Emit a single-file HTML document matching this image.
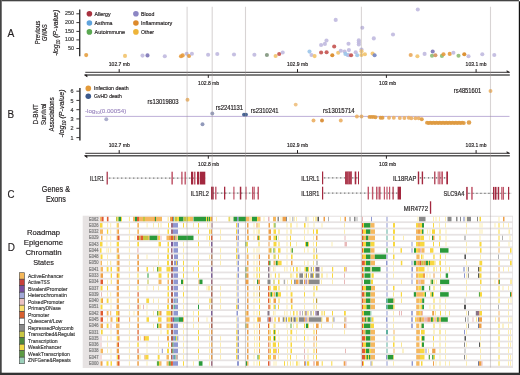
<!DOCTYPE html>
<html><head><meta charset="utf-8"><style>
html,body{margin:0;padding:0;background:#fff;}
body{width:520px;height:375px;overflow:hidden;}
svg{display:block;font-family:"Liberation Sans", sans-serif;will-change:transform;}
</style></head><body>
<svg width="520" height="375" viewBox="0 0 520 375">
<rect x="0" y="0" width="520" height="375" fill="#ffffff" />
<text x="7.6" y="36.7" font-size="11.6" fill="#231f20" stroke="#231f20" stroke-width="0.18" text-anchor="start" textLength="6.8" lengthAdjust="spacingAndGlyphs" >A</text>
<text transform="translate(40.0,44.2) rotate(-90)" x="0" y="0" font-size="6.6" fill="#231f20" stroke="#231f20" stroke-width="0.18" textLength="23.6" lengthAdjust="spacingAndGlyphs" >Previous</text>
<text transform="translate(47.1,41.1) rotate(-90)" x="0" y="0" font-size="6.4" fill="#231f20" stroke="#231f20" stroke-width="0.18" textLength="16.7" lengthAdjust="spacingAndGlyphs" >GWAS</text>
<text transform="translate(58.2,55.8) rotate(-90)" x="0" y="0" font-size="7.6" font-style="italic" fill="#231f20" stroke="#231f20" stroke-width="0.18" textLength="46" lengthAdjust="spacingAndGlyphs">-log<tspan font-size="4.5" dy="1.5">10</tspan><tspan dy="-1.5"> (P-value)</tspan></text>
<line x1="79.7" y1="9.4" x2="79.7" y2="56.2" stroke="#333" stroke-width="1.4" />
<line x1="76.4" y1="13.8" x2="79.5" y2="13.8" stroke="#231f20" stroke-width="0.9" />
<text x="74.0" y="15.3" font-size="5.4" fill="#3a3a3a" stroke="#3a3a3a" stroke-width="0.18" text-anchor="end" >250</text>
<line x1="76.4" y1="22.6" x2="79.5" y2="22.6" stroke="#231f20" stroke-width="0.9" />
<text x="74.0" y="24.1" font-size="5.4" fill="#3a3a3a" stroke="#3a3a3a" stroke-width="0.18" text-anchor="end" >200</text>
<line x1="76.4" y1="31.4" x2="79.5" y2="31.4" stroke="#231f20" stroke-width="0.9" />
<text x="74.0" y="32.9" font-size="5.4" fill="#3a3a3a" stroke="#3a3a3a" stroke-width="0.18" text-anchor="end" >150</text>
<line x1="76.4" y1="39.9" x2="79.5" y2="39.9" stroke="#231f20" stroke-width="0.9" />
<text x="74.0" y="41.4" font-size="5.4" fill="#3a3a3a" stroke="#3a3a3a" stroke-width="0.18" text-anchor="end" >100</text>
<line x1="76.4" y1="48.5" x2="79.5" y2="48.5" stroke="#231f20" stroke-width="0.9" />
<text x="74.0" y="50.0" font-size="5.4" fill="#3a3a3a" stroke="#3a3a3a" stroke-width="0.18" text-anchor="end" >50</text>
<circle cx="89.4" cy="13.8" r="2.8" fill="#a8323f" />
<text x="94.60000000000001" y="15.8" font-size="5.8" fill="#231f20" stroke="#231f20" stroke-width="0.18" text-anchor="start" textLength="15.9" lengthAdjust="spacingAndGlyphs" >Allergy</text>
<circle cx="89.4" cy="23.0" r="2.8" fill="#5fa3dc" />
<text x="94.60000000000001" y="25.0" font-size="5.8" fill="#231f20" stroke="#231f20" stroke-width="0.18" text-anchor="start" textLength="17.9" lengthAdjust="spacingAndGlyphs" >Asthma</text>
<circle cx="89.4" cy="31.9" r="2.8" fill="#5aa851" />
<text x="94.60000000000001" y="33.9" font-size="5.8" fill="#231f20" stroke="#231f20" stroke-width="0.18" text-anchor="start" textLength="30.4" lengthAdjust="spacingAndGlyphs" >Autoimmune</text>
<circle cx="135.9" cy="13.8" r="2.8" fill="#8c86c4" />
<text x="141.1" y="15.8" font-size="5.8" fill="#231f20" stroke="#231f20" stroke-width="0.18" text-anchor="start" textLength="13.3" lengthAdjust="spacingAndGlyphs" >Blood</text>
<circle cx="135.9" cy="23.0" r="2.8" fill="#dd8a2c" />
<text x="141.1" y="25.0" font-size="5.8" fill="#231f20" stroke="#231f20" stroke-width="0.18" text-anchor="start" textLength="31.2" lengthAdjust="spacingAndGlyphs" >Inflammatory</text>
<circle cx="135.9" cy="31.9" r="2.8" fill="#eeb43a" />
<text x="141.1" y="33.9" font-size="5.8" fill="#231f20" stroke="#231f20" stroke-width="0.18" text-anchor="start" textLength="12.9" lengthAdjust="spacingAndGlyphs" >Other</text>
<circle cx="86.2" cy="55.1" r="2.05" fill="#e5a040" fill-opacity="0.9"/>
<circle cx="125.0" cy="55.9" r="2.05" fill="#f2c36c" fill-opacity="0.9"/>
<circle cx="142.5" cy="55.6" r="2.05" fill="#c0b9df" fill-opacity="0.9"/>
<circle cx="147.5" cy="55.4" r="2.05" fill="#7c74b6" fill-opacity="0.9"/>
<circle cx="164.8" cy="56.2" r="2.05" fill="#c0b9df" fill-opacity="0.9"/>
<circle cx="181.0" cy="56.2" r="2.05" fill="#e59a3c" fill-opacity="0.9"/>
<circle cx="182.7" cy="55.4" r="2.05" fill="#e59a3c" fill-opacity="0.9"/>
<circle cx="186.7" cy="53.7" r="2.05" fill="#c0b9df" fill-opacity="0.9"/>
<circle cx="189.0" cy="56.0" r="2.05" fill="#e59a3c" fill-opacity="0.9"/>
<circle cx="191.9" cy="53.7" r="2.05" fill="#c0b9df" fill-opacity="0.9"/>
<circle cx="208.1" cy="54.8" r="2.05" fill="#c0b9df" fill-opacity="0.9"/>
<circle cx="217.3" cy="54.0" r="2.05" fill="#c0b9df" fill-opacity="0.9"/>
<circle cx="234.0" cy="54.5" r="2.05" fill="#c0b9df" fill-opacity="0.9"/>
<circle cx="254.4" cy="54.8" r="2.05" fill="#c0b9df" fill-opacity="0.9"/>
<circle cx="266.9" cy="55.0" r="2.05" fill="#7f957c" fill-opacity="0.9"/>
<circle cx="275.6" cy="56.0" r="2.05" fill="#f2c36c" fill-opacity="0.9"/>
<circle cx="279.2" cy="54.0" r="2.05" fill="#c4524f" fill-opacity="0.9"/>
<circle cx="282.7" cy="52.5" r="2.05" fill="#c0b9df" fill-opacity="0.9"/>
<circle cx="309.5" cy="51.6" r="2.05" fill="#9bc5ea" fill-opacity="0.9"/>
<circle cx="311.5" cy="55.0" r="2.05" fill="#c0b9df" fill-opacity="0.9"/>
<circle cx="314.6" cy="56.1" r="2.05" fill="#f2c36c" fill-opacity="0.9"/>
<circle cx="321.1" cy="52.5" r="2.05" fill="#c4524f" fill-opacity="0.9"/>
<circle cx="326.6" cy="52.2" r="2.05" fill="#c4524f" fill-opacity="0.9"/>
<circle cx="332.3" cy="55.3" r="2.05" fill="#d8861f" fill-opacity="0.9"/>
<circle cx="338.2" cy="52.8" r="2.05" fill="#f2c36c" fill-opacity="0.9"/>
<circle cx="340.8" cy="50.7" r="2.05" fill="#c0b9df" fill-opacity="0.9"/>
<circle cx="344.6" cy="51.6" r="2.05" fill="#c0b9df" fill-opacity="0.9"/>
<circle cx="345.4" cy="53.9" r="2.05" fill="#9bc5ea" fill-opacity="0.9"/>
<circle cx="347.7" cy="55.0" r="2.05" fill="#9bc5ea" fill-opacity="0.9"/>
<circle cx="348.9" cy="55.3" r="2.05" fill="#c0b9df" fill-opacity="0.9"/>
<circle cx="351.1" cy="55.3" r="2.05" fill="#c4524f" fill-opacity="0.9"/>
<circle cx="348.9" cy="50.1" r="2.05" fill="#c0b9df" fill-opacity="0.9"/>
<circle cx="348.5" cy="43.8" r="2.05" fill="#c0b9df" fill-opacity="0.9"/>
<circle cx="355.7" cy="52.2" r="2.05" fill="#c0b9df" fill-opacity="0.9"/>
<circle cx="357.2" cy="55.3" r="2.05" fill="#9bc5ea" fill-opacity="0.9"/>
<circle cx="358.8" cy="40.4" r="2.05" fill="#c0b9df" fill-opacity="0.9"/>
<circle cx="358.8" cy="42.4" r="2.05" fill="#c0b9df" fill-opacity="0.9"/>
<circle cx="358.8" cy="44.5" r="2.05" fill="#c0b9df" fill-opacity="0.9"/>
<circle cx="361.5" cy="49.6" r="2.05" fill="#c0b9df" fill-opacity="0.9"/>
<circle cx="361.5" cy="51.2" r="2.05" fill="#f2c36c" fill-opacity="0.9"/>
<circle cx="361.5" cy="55.0" r="2.05" fill="#f2c36c" fill-opacity="0.9"/>
<circle cx="364.9" cy="54.2" r="2.05" fill="#f2c36c" fill-opacity="0.9"/>
<circle cx="362.3" cy="27.8" r="2.05" fill="#c0b9df" fill-opacity="0.9"/>
<circle cx="372.6" cy="53.5" r="2.05" fill="#f2c36c" fill-opacity="0.9"/>
<circle cx="374.6" cy="55.3" r="2.05" fill="#7384c2" fill-opacity="0.9"/>
<circle cx="373.8" cy="38.4" r="2.05" fill="#c0b9df" fill-opacity="0.9"/>
<circle cx="335.7" cy="19.9" r="2.05" fill="#c0b9df" fill-opacity="0.9"/>
<circle cx="321.1" cy="45.0" r="2.05" fill="#c0b9df" fill-opacity="0.9"/>
<circle cx="324.9" cy="43.9" r="2.05" fill="#c0b9df" fill-opacity="0.9"/>
<circle cx="326.5" cy="40.5" r="2.05" fill="#c0b9df" fill-opacity="0.9"/>
<circle cx="334.2" cy="46.5" r="2.05" fill="#c4524f" fill-opacity="0.9"/>
<circle cx="393.0" cy="34.5" r="2.05" fill="#c0b9df" fill-opacity="0.9"/>
<circle cx="417.8" cy="9.5" r="2.05" fill="#c0b9df" fill-opacity="0.9"/>
<circle cx="410.7" cy="55.0" r="2.05" fill="#e9a85c" fill-opacity="0.9"/>
<circle cx="417.4" cy="56.2" r="2.05" fill="#f2c36c" fill-opacity="0.9"/>
<circle cx="424.6" cy="53.9" r="2.05" fill="#c0b9df" fill-opacity="0.9"/>
<circle cx="432.7" cy="51.5" r="2.05" fill="#7c74b6" fill-opacity="0.9"/>
<circle cx="432.0" cy="55.7" r="2.05" fill="#8ebc74" fill-opacity="0.9"/>
<circle cx="435.4" cy="55.2" r="2.05" fill="#d4925c" fill-opacity="0.9"/>
<circle cx="441.9" cy="55.9" r="2.05" fill="#8ebc74" fill-opacity="0.9"/>
<circle cx="443.5" cy="54.3" r="2.05" fill="#e59a3c" fill-opacity="0.9"/>
<circle cx="449.7" cy="53.9" r="2.05" fill="#e59a3c" fill-opacity="0.9"/>
<circle cx="453.4" cy="52.7" r="2.05" fill="#c0b9df" fill-opacity="0.9"/>
<circle cx="458.5" cy="55.7" r="2.05" fill="#8ebc74" fill-opacity="0.9"/>
<circle cx="464.3" cy="54.3" r="2.05" fill="#d8861f" fill-opacity="0.9"/>
<circle cx="468.5" cy="56.2" r="2.05" fill="#c0b9df" fill-opacity="0.9"/>
<circle cx="482.3" cy="54.3" r="2.05" fill="#c0b9df" fill-opacity="0.9"/>
<circle cx="494.3" cy="55.0" r="2.05" fill="#c0b9df" fill-opacity="0.9"/>
<line x1="85.3" y1="72.3" x2="509.5" y2="72.3" stroke="#231f20" stroke-width="0.9" />
<path d="M509.5 72.3 L506.8 70.7 L507.2 72.1 Z" fill="#231f20" stroke="#231f20" stroke-width="0.6"/>
<line x1="85.0" y1="74.9" x2="509.8" y2="74.9" stroke="#555" stroke-width="1.5" />
<path d="M84.4 74.9 L87.2 76.9 L86.8 74.9 Z" fill="#231f20" stroke="#231f20" stroke-width="0.6"/>
<line x1="119.2" y1="69.1" x2="119.2" y2="72.3" stroke="#231f20" stroke-width="1.0" />
<line x1="297.5" y1="69.1" x2="297.5" y2="72.3" stroke="#231f20" stroke-width="1.0" />
<line x1="476.1" y1="69.1" x2="476.1" y2="72.3" stroke="#231f20" stroke-width="1.0" />
<line x1="208.3" y1="74.9" x2="208.3" y2="77.9" stroke="#231f20" stroke-width="1.0" />
<line x1="386.4" y1="74.9" x2="386.4" y2="77.9" stroke="#231f20" stroke-width="1.0" />
<text x="108.8" y="65.5" font-size="5.4" fill="#231f20" stroke="#231f20" stroke-width="0.18" text-anchor="start" textLength="21.0" lengthAdjust="spacingAndGlyphs" >102.7 mb</text>
<text x="287.0" y="65.5" font-size="5.4" fill="#231f20" stroke="#231f20" stroke-width="0.18" text-anchor="start" textLength="21.0" lengthAdjust="spacingAndGlyphs" >102.9 mb</text>
<text x="465.6" y="65.5" font-size="5.4" fill="#231f20" stroke="#231f20" stroke-width="0.18" text-anchor="start" textLength="21.0" lengthAdjust="spacingAndGlyphs" >103.1 mb</text>
<text x="198.1" y="85.2" font-size="5.4" fill="#231f20" stroke="#231f20" stroke-width="0.18" text-anchor="start" textLength="21.0" lengthAdjust="spacingAndGlyphs" >102.8 mb</text>
<text x="379.1" y="85.2" font-size="5.4" fill="#231f20" stroke="#231f20" stroke-width="0.18" text-anchor="start" textLength="16.9" lengthAdjust="spacingAndGlyphs" >103 mb</text>
<text x="7.6" y="117.8" font-size="11.6" fill="#231f20" stroke="#231f20" stroke-width="0.18" text-anchor="start" textLength="6.6" lengthAdjust="spacingAndGlyphs" >B</text>
<text transform="translate(38.0,124.4) rotate(-90)" x="0" y="0" font-size="6.9" fill="#231f20" stroke="#231f20" stroke-width="0.18" textLength="20.3" lengthAdjust="spacingAndGlyphs" >D-BMT</text>
<text transform="translate(46.0,125.0) rotate(-90)" x="0" y="0" font-size="6.5" fill="#231f20" stroke="#231f20" stroke-width="0.18" textLength="21.4" lengthAdjust="spacingAndGlyphs" >Survival</text>
<text transform="translate(54.0,131.4) rotate(-90)" x="0" y="0" font-size="6.4" fill="#231f20" stroke="#231f20" stroke-width="0.18" textLength="34.2" lengthAdjust="spacingAndGlyphs" >Associations</text>
<text transform="translate(64.4,137.4) rotate(-90)" x="0" y="0" font-size="8.0" font-style="italic" fill="#231f20" stroke="#231f20" stroke-width="0.18" textLength="48" lengthAdjust="spacingAndGlyphs">-log<tspan font-size="4.8" dy="1.5">10</tspan><tspan dy="-1.5"> (P-value)</tspan></text>
<line x1="79.9" y1="88.1" x2="79.9" y2="140.6" stroke="#333" stroke-width="1.5" />
<line x1="76.4" y1="91.2" x2="79.6" y2="91.2" stroke="#231f20" stroke-width="0.9" />
<text x="73.6" y="93.3" font-size="5.4" fill="#3a3a3a" stroke="#3a3a3a" stroke-width="0.18" text-anchor="end" >6</text>
<line x1="76.4" y1="100.4" x2="79.6" y2="100.4" stroke="#231f20" stroke-width="0.9" />
<text x="73.6" y="102.5" font-size="5.4" fill="#3a3a3a" stroke="#3a3a3a" stroke-width="0.18" text-anchor="end" >5</text>
<line x1="76.4" y1="109.7" x2="79.6" y2="109.7" stroke="#231f20" stroke-width="0.9" />
<text x="73.6" y="111.8" font-size="5.4" fill="#3a3a3a" stroke="#3a3a3a" stroke-width="0.18" text-anchor="end" >4</text>
<line x1="76.4" y1="118.9" x2="79.6" y2="118.9" stroke="#231f20" stroke-width="0.9" />
<text x="73.6" y="121.0" font-size="5.4" fill="#3a3a3a" stroke="#3a3a3a" stroke-width="0.18" text-anchor="end" >3</text>
<line x1="76.4" y1="128.3" x2="79.6" y2="128.3" stroke="#231f20" stroke-width="0.9" />
<text x="73.6" y="130.4" font-size="5.4" fill="#3a3a3a" stroke="#3a3a3a" stroke-width="0.18" text-anchor="end" >2</text>
<line x1="76.4" y1="137.6" x2="79.6" y2="137.6" stroke="#231f20" stroke-width="0.9" />
<text x="73.6" y="139.7" font-size="5.4" fill="#3a3a3a" stroke="#3a3a3a" stroke-width="0.18" text-anchor="end" >1</text>
<circle cx="88.3" cy="88.4" r="2.8" fill="#e39a3a" />
<text x="94.1" y="90.4" font-size="5.8" fill="#231f20" stroke="#231f20" stroke-width="0.18" text-anchor="start" textLength="34.6" lengthAdjust="spacingAndGlyphs" >Infection death</text>
<circle cx="88.3" cy="96.2" r="2.8" fill="#3d5a8c" />
<text x="94.1" y="98.2" font-size="5.8" fill="#231f20" stroke="#231f20" stroke-width="0.18" text-anchor="start" textLength="27.6" lengthAdjust="spacingAndGlyphs" >GvHD death</text>
<line x1="85.2" y1="116.4" x2="509.5" y2="116.4" stroke="#b7a6d2" stroke-width="0.9" />
<text x="85.0" y="112.8" font-size="5.8" fill="#9a86bf" stroke="#9a86bf" stroke-width="0.12" textLength="41.3" lengthAdjust="spacingAndGlyphs">-log<tspan font-size="3.6" dy="1">10</tspan><tspan dy="-1">(0.00054)</tspan></text>
<circle cx="106.3" cy="119.3" r="1.95" fill="#a4a6c8" fill-opacity="0.92"/>
<circle cx="187.5" cy="99.8" r="1.95" fill="#efb466" fill-opacity="0.92"/>
<circle cx="212.3" cy="113.5" r="1.95" fill="#8e96b6" fill-opacity="0.92"/>
<circle cx="202.5" cy="124.3" r="1.95" fill="#8890b4" fill-opacity="0.92"/>
<circle cx="244.0" cy="114.6" r="1.95" fill="#3d5a8c" fill-opacity="0.92"/>
<circle cx="246.0" cy="114.6" r="1.95" fill="#3d5a8c" fill-opacity="0.92"/>
<circle cx="295.7" cy="104.6" r="1.95" fill="#efc080" fill-opacity="0.92"/>
<circle cx="313.5" cy="120.5" r="1.95" fill="#ebb065" fill-opacity="0.92"/>
<circle cx="322.0" cy="120.5" r="1.95" fill="#d88a30" fill-opacity="0.92"/>
<circle cx="340.8" cy="120.5" r="1.95" fill="#ebb065" fill-opacity="0.92"/>
<circle cx="356.9" cy="116.5" r="1.95" fill="#ebb065" fill-opacity="0.92"/>
<circle cx="361.5" cy="116.5" r="1.95" fill="#ebb065" fill-opacity="0.92"/>
<circle cx="490.5" cy="91.0" r="1.95" fill="#efb466" fill-opacity="0.92"/>
<circle cx="369.5" cy="116.9" r="1.95" fill="#de9a40" fill-opacity="0.92"/>
<circle cx="371.5" cy="116.9" r="1.95" fill="#de9a40" fill-opacity="0.92"/>
<circle cx="373.5" cy="116.9" r="1.95" fill="#de9a40" fill-opacity="0.92"/>
<circle cx="375.5" cy="117.2" r="1.95" fill="#de9a40" fill-opacity="0.92"/>
<circle cx="380.6" cy="117.8" r="1.95" fill="#de9a40" fill-opacity="0.92"/>
<circle cx="382.5" cy="117.8" r="1.95" fill="#de9a40" fill-opacity="0.92"/>
<circle cx="389" cy="117.8" r="1.95" fill="#ebb065" fill-opacity="0.92"/>
<circle cx="393.8" cy="117.8" r="1.95" fill="#ebb065" fill-opacity="0.92"/>
<circle cx="399.8" cy="118" r="1.95" fill="#ebb065" fill-opacity="0.92"/>
<circle cx="404.4" cy="118" r="1.95" fill="#ebb065" fill-opacity="0.92"/>
<circle cx="408.8" cy="117.8" r="1.95" fill="#ebb065" fill-opacity="0.92"/>
<circle cx="411.3" cy="118.3" r="1.95" fill="#ebb065" fill-opacity="0.92"/>
<circle cx="415.4" cy="118.3" r="1.95" fill="#ebb065" fill-opacity="0.92"/>
<circle cx="418.7" cy="118.3" r="1.95" fill="#ebb065" fill-opacity="0.92"/>
<circle cx="421.8" cy="119.2" r="1.95" fill="#de9a40" fill-opacity="0.92"/>
<circle cx="427.0" cy="122.64999999999999" r="1.95" fill="#de9a40" fill-opacity="0.92"/>
<circle cx="428.6" cy="123.05" r="1.95" fill="#de9a40" fill-opacity="0.92"/>
<circle cx="430.2" cy="122.64999999999999" r="1.95" fill="#de9a40" fill-opacity="0.92"/>
<circle cx="431.8" cy="123.05" r="1.95" fill="#de9a40" fill-opacity="0.92"/>
<circle cx="433.4" cy="122.64999999999999" r="1.95" fill="#de9a40" fill-opacity="0.92"/>
<circle cx="435.0" cy="123.05" r="1.95" fill="#de9a40" fill-opacity="0.92"/>
<circle cx="436.6" cy="122.64999999999999" r="1.95" fill="#de9a40" fill-opacity="0.92"/>
<circle cx="438.2" cy="123.05" r="1.95" fill="#de9a40" fill-opacity="0.92"/>
<circle cx="439.8" cy="122.64999999999999" r="1.95" fill="#de9a40" fill-opacity="0.92"/>
<circle cx="441.4" cy="123.05" r="1.95" fill="#de9a40" fill-opacity="0.92"/>
<circle cx="443.0" cy="122.64999999999999" r="1.95" fill="#de9a40" fill-opacity="0.92"/>
<circle cx="444.6" cy="123.05" r="1.95" fill="#de9a40" fill-opacity="0.92"/>
<circle cx="446.2" cy="122.64999999999999" r="1.95" fill="#de9a40" fill-opacity="0.92"/>
<circle cx="447.8" cy="123.05" r="1.95" fill="#de9a40" fill-opacity="0.92"/>
<circle cx="449.4" cy="122.64999999999999" r="1.95" fill="#de9a40" fill-opacity="0.92"/>
<circle cx="451.0" cy="123.05" r="1.95" fill="#de9a40" fill-opacity="0.92"/>
<circle cx="452.6" cy="122.64999999999999" r="1.95" fill="#de9a40" fill-opacity="0.92"/>
<circle cx="454.2" cy="123.05" r="1.95" fill="#de9a40" fill-opacity="0.92"/>
<circle cx="455.8" cy="122.64999999999999" r="1.95" fill="#de9a40" fill-opacity="0.92"/>
<circle cx="457.4" cy="123.05" r="1.95" fill="#de9a40" fill-opacity="0.92"/>
<circle cx="459.0" cy="122.64999999999999" r="1.95" fill="#de9a40" fill-opacity="0.92"/>
<circle cx="460.6" cy="123.05" r="1.95" fill="#de9a40" fill-opacity="0.92"/>
<circle cx="462.2" cy="122.64999999999999" r="1.95" fill="#de9a40" fill-opacity="0.92"/>
<circle cx="463.8" cy="123.05" r="1.95" fill="#de9a40" fill-opacity="0.92"/>
<circle cx="469.0" cy="122.5" r="2.3" fill="#de9a40" fill-opacity="0.92"/>
<text x="147.5" y="103.5" font-size="6.6" fill="#231f20" stroke="#231f20" stroke-width="0.18" text-anchor="start" textLength="31.1" lengthAdjust="spacingAndGlyphs" >rs13019803</text>
<text x="215.8" y="109.5" font-size="6.6" fill="#231f20" stroke="#231f20" stroke-width="0.18" text-anchor="start" textLength="27.3" lengthAdjust="spacingAndGlyphs" >rs2241131</text>
<text x="250.8" y="113.1" font-size="6.6" fill="#231f20" stroke="#231f20" stroke-width="0.18" text-anchor="start" textLength="27.7" lengthAdjust="spacingAndGlyphs" >rs2310241</text>
<text x="323.1" y="112.6" font-size="6.6" fill="#231f20" stroke="#231f20" stroke-width="0.18" text-anchor="start" textLength="31.5" lengthAdjust="spacingAndGlyphs" >rs13015714</text>
<text x="453.8" y="93.0" font-size="6.6" fill="#231f20" stroke="#231f20" stroke-width="0.18" text-anchor="start" textLength="27.5" lengthAdjust="spacingAndGlyphs" >rs4851601</text>
<line x1="85.3" y1="153.3" x2="509.5" y2="153.3" stroke="#231f20" stroke-width="0.9" />
<path d="M509.5 153.3 L506.8 151.70000000000002 L507.2 153.10000000000002 Z" fill="#231f20" stroke="#231f20" stroke-width="0.6"/>
<line x1="85.0" y1="155.7" x2="509.8" y2="155.7" stroke="#555" stroke-width="1.5" />
<path d="M84.4 155.7 L87.2 157.7 L86.8 155.7 Z" fill="#231f20" stroke="#231f20" stroke-width="0.6"/>
<line x1="119.2" y1="150.10000000000002" x2="119.2" y2="153.3" stroke="#231f20" stroke-width="1.0" />
<line x1="297.5" y1="150.10000000000002" x2="297.5" y2="153.3" stroke="#231f20" stroke-width="1.0" />
<line x1="476.1" y1="150.10000000000002" x2="476.1" y2="153.3" stroke="#231f20" stroke-width="1.0" />
<line x1="208.3" y1="155.7" x2="208.3" y2="158.7" stroke="#231f20" stroke-width="1.0" />
<line x1="386.4" y1="155.7" x2="386.4" y2="158.7" stroke="#231f20" stroke-width="1.0" />
<text x="108.8" y="146.5" font-size="5.4" fill="#231f20" stroke="#231f20" stroke-width="0.18" text-anchor="start" textLength="21.0" lengthAdjust="spacingAndGlyphs" >102.7 mb</text>
<text x="287.0" y="146.5" font-size="5.4" fill="#231f20" stroke="#231f20" stroke-width="0.18" text-anchor="start" textLength="21.0" lengthAdjust="spacingAndGlyphs" >102.9 mb</text>
<text x="465.6" y="146.5" font-size="5.4" fill="#231f20" stroke="#231f20" stroke-width="0.18" text-anchor="start" textLength="21.0" lengthAdjust="spacingAndGlyphs" >103.1 mb</text>
<text x="198.1" y="166.20000000000002" font-size="5.4" fill="#231f20" stroke="#231f20" stroke-width="0.18" text-anchor="start" textLength="21.0" lengthAdjust="spacingAndGlyphs" >102.8 mb</text>
<text x="379.1" y="166.20000000000002" font-size="5.4" fill="#231f20" stroke="#231f20" stroke-width="0.18" text-anchor="start" textLength="16.9" lengthAdjust="spacingAndGlyphs" >103 mb</text>
<text x="7.6" y="198.2" font-size="11.6" fill="#231f20" stroke="#231f20" stroke-width="0.18" text-anchor="start" textLength="7.0" lengthAdjust="spacingAndGlyphs" >C</text>
<text x="55.9" y="192.3" font-size="8.2" fill="#231f20" stroke="#231f20" stroke-width="0.18" text-anchor="middle" textLength="28.2" lengthAdjust="spacingAndGlyphs" >Genes &amp;</text>
<text x="55.9" y="201.8" font-size="8.2" fill="#231f20" stroke="#231f20" stroke-width="0.18" text-anchor="middle" textLength="20.0" lengthAdjust="spacingAndGlyphs" >Exons</text>
<text x="103.8" y="180.6" font-size="6.8" fill="#231f20" stroke="#231f20" stroke-width="0.18" text-anchor="end" textLength="13.8" lengthAdjust="spacingAndGlyphs" >IL1R1</text>
<line x1="107.0" y1="178.1" x2="205.3" y2="178.1" stroke="#cfcfcf" stroke-width="0.9" />
<line x1="109.2" y1="178.1" x2="205.3" y2="178.1" stroke="#6a6a6a" stroke-width="1.3" stroke-dasharray="1.1,2.9"/>
<rect x="106.6" y="171.7" width="1.2000000000000028" height="12.8" fill="#a3283f" />
<rect x="171.4" y="171.7" width="1.5" height="12.8" fill="#c0566a" />
<rect x="181.2" y="171.7" width="1.4000000000000057" height="12.8" fill="#c0566a" />
<rect x="184.5" y="171.7" width="1.4000000000000057" height="12.8" fill="#c0566a" />
<rect x="191.0" y="171.7" width="2.0" height="12.8" fill="#a3283f" />
<rect x="193.7" y="171.7" width="1.8000000000000114" height="12.8" fill="#c0566a" />
<rect x="197.0" y="171.7" width="2.0" height="12.8" fill="#a3283f" />
<rect x="199.7" y="171.7" width="5.600000000000023" height="12.8" fill="#a3283f" />
<text x="208.8" y="195.9" font-size="6.8" fill="#231f20" stroke="#231f20" stroke-width="0.18" text-anchor="end" textLength="18.0" lengthAdjust="spacingAndGlyphs" >IL1RL2</text>
<line x1="211.0" y1="193.1" x2="259.0" y2="193.1" stroke="#cfcfcf" stroke-width="0.9" />
<line x1="213.2" y1="193.1" x2="259.0" y2="193.1" stroke="#6a6a6a" stroke-width="1.3" stroke-dasharray="1.1,2.9"/>
<rect x="211.0" y="186.7" width="2.6999999999999886" height="12.8" fill="#a3283f" />
<rect x="215.1" y="186.7" width="1.4000000000000057" height="12.8" fill="#c0566a" />
<rect x="224.0" y="186.7" width="1.3000000000000114" height="12.8" fill="#a3283f" />
<rect x="233.3" y="186.7" width="1.1999999999999886" height="12.8" fill="#c0566a" />
<rect x="239.8" y="186.7" width="1.5" height="12.8" fill="#a3283f" />
<rect x="245.4" y="186.7" width="1.1999999999999886" height="12.8" fill="#c0566a" />
<rect x="252.0" y="186.7" width="1.1999999999999886" height="12.8" fill="#c0566a" />
<rect x="253.5" y="186.7" width="1.3000000000000114" height="12.8" fill="#c0566a" />
<rect x="257.5" y="186.7" width="1.5" height="12.8" fill="#c0566a" />
<text x="319.3" y="180.8" font-size="6.8" fill="#231f20" stroke="#231f20" stroke-width="0.18" text-anchor="end" textLength="18.0" lengthAdjust="spacingAndGlyphs" >IL1RL1</text>
<line x1="322.0" y1="177.9" x2="359.0" y2="177.9" stroke="#cfcfcf" stroke-width="0.9" />
<line x1="324.2" y1="177.9" x2="359.0" y2="177.9" stroke="#6a6a6a" stroke-width="1.3" stroke-dasharray="1.1,2.9"/>
<rect x="322.0" y="171.5" width="1.1999999999999886" height="12.8" fill="#a3283f" />
<rect x="345.1" y="171.5" width="6.899999999999977" height="12.8" fill="#a3283f" />
<rect x="354.7" y="171.5" width="1.6000000000000227" height="12.8" fill="#a3283f" />
<rect x="358.0" y="171.5" width="1.0" height="12.8" fill="#a3283f" />
<rect x="346.8" y="171.6" width="0.45" height="12.6" fill="#d58a98" />
<rect x="348.3" y="171.6" width="0.45" height="12.6" fill="#d58a98" />
<rect x="349.8" y="171.6" width="0.45" height="12.6" fill="#d58a98" />
<rect x="351.0" y="171.6" width="0.45" height="12.6" fill="#d58a98" />
<text x="319.3" y="195.9" font-size="6.8" fill="#231f20" stroke="#231f20" stroke-width="0.18" text-anchor="end" textLength="18.0" lengthAdjust="spacingAndGlyphs" >IL18R1</text>
<line x1="322.0" y1="193.1" x2="401.0" y2="193.1" stroke="#cfcfcf" stroke-width="0.9" />
<line x1="324.2" y1="193.1" x2="401.0" y2="193.1" stroke="#6a6a6a" stroke-width="1.3" stroke-dasharray="1.1,2.9"/>
<rect x="322.0" y="186.7" width="1.1999999999999886" height="12.8" fill="#a3283f" />
<rect x="367.6" y="186.7" width="1.3999999999999773" height="12.8" fill="#c0566a" />
<rect x="371.9" y="186.7" width="1.400000000000034" height="12.8" fill="#c0566a" />
<rect x="376.0" y="186.7" width="1.0" height="12.8" fill="#c0566a" />
<rect x="377.5" y="186.7" width="1.0" height="12.8" fill="#c0566a" />
<rect x="379.0" y="186.7" width="1.6000000000000227" height="12.8" fill="#c0566a" />
<rect x="383.8" y="186.7" width="1.1999999999999886" height="12.8" fill="#c0566a" />
<rect x="386.4" y="186.7" width="1.2000000000000455" height="12.8" fill="#c0566a" />
<rect x="389.0" y="186.7" width="1.1999999999999886" height="12.8" fill="#c0566a" />
<rect x="392.5" y="186.7" width="1.1999999999999886" height="12.8" fill="#a3283f" />
<rect x="397.6" y="186.7" width="3.3999999999999773" height="12.8" fill="#a3283f" />
<text x="416.3" y="180.6" font-size="6.8" fill="#231f20" stroke="#231f20" stroke-width="0.18" text-anchor="end" textLength="23.3" lengthAdjust="spacingAndGlyphs" >IL18RAP</text>
<line x1="417.8" y1="177.9" x2="448.0" y2="177.9" stroke="#cfcfcf" stroke-width="0.9" />
<line x1="420.0" y1="177.9" x2="448.0" y2="177.9" stroke="#6a6a6a" stroke-width="1.3" stroke-dasharray="1.1,2.9"/>
<rect x="417.8" y="171.5" width="1.3999999999999773" height="12.8" fill="#a3283f" />
<rect x="421.7" y="171.5" width="1.400000000000034" height="12.8" fill="#a3283f" />
<rect x="434.2" y="171.5" width="1.1999999999999886" height="12.8" fill="#a3283f" />
<rect x="437.7" y="171.5" width="1.0" height="12.8" fill="#c0566a" />
<rect x="439.2" y="171.5" width="1.0" height="12.8" fill="#c0566a" />
<rect x="440.7" y="171.5" width="1.0" height="12.8" fill="#c0566a" />
<rect x="442.0" y="171.5" width="1.0" height="12.8" fill="#c0566a" />
<rect x="446.3" y="171.5" width="1.6999999999999886" height="12.8" fill="#a3283f" />
<text x="464.3" y="195.9" font-size="6.8" fill="#231f20" stroke="#231f20" stroke-width="0.18" text-anchor="end" textLength="20.9" lengthAdjust="spacingAndGlyphs" >SLC9A4</text>
<line x1="466.2" y1="193.3" x2="511.5" y2="193.3" stroke="#cfcfcf" stroke-width="0.9" />
<line x1="468.4" y1="193.3" x2="511.5" y2="193.3" stroke="#6a6a6a" stroke-width="1.3" stroke-dasharray="1.1,2.9"/>
<rect x="466.2" y="186.9" width="1.5" height="12.8" fill="#a3283f" />
<rect x="471.2" y="186.9" width="1.5" height="12.8" fill="#c0566a" />
<rect x="493.0" y="186.9" width="1.5" height="12.8" fill="#a3283f" />
<rect x="495.0" y="186.9" width="1.5" height="12.8" fill="#a3283f" />
<rect x="497.7" y="186.9" width="1.5" height="12.8" fill="#a3283f" />
<rect x="501.2" y="186.9" width="1.3000000000000114" height="12.8" fill="#c0566a" />
<rect x="502.8" y="186.9" width="1.1999999999999886" height="12.8" fill="#c0566a" />
<rect x="508.0" y="186.9" width="1.1999999999999886" height="12.8" fill="#a3283f" />
<text x="428.0" y="210.5" font-size="6.8" fill="#231f20" stroke="#231f20" stroke-width="0.18" text-anchor="end" textLength="24.2" lengthAdjust="spacingAndGlyphs" >MIR4772</text>
<rect x="429.9" y="201.3" width="1.3" height="12.5" fill="#a3283f" />
<text x="7.8" y="250.9" font-size="11.6" fill="#231f20" stroke="#231f20" stroke-width="0.18" text-anchor="start" textLength="7.2" lengthAdjust="spacingAndGlyphs" >D</text>
<text x="43.5" y="235.1" font-size="8.0" fill="#231f20" stroke="#231f20" stroke-width="0.18" text-anchor="middle" textLength="33.1" lengthAdjust="spacingAndGlyphs" >Roadmap</text>
<text x="43.5" y="245.1" font-size="8.0" fill="#231f20" stroke="#231f20" stroke-width="0.18" text-anchor="middle" textLength="39.3" lengthAdjust="spacingAndGlyphs" >Epigenome</text>
<text x="43.5" y="254.8" font-size="8.0" fill="#231f20" stroke="#231f20" stroke-width="0.18" text-anchor="middle" textLength="36.1" lengthAdjust="spacingAndGlyphs" >Chromatin</text>
<text x="43.5" y="264.6" font-size="8.0" fill="#231f20" stroke="#231f20" stroke-width="0.18" text-anchor="middle" textLength="20.7" lengthAdjust="spacingAndGlyphs" >States</text>
<rect x="19.4" y="272.7" width="5.0" height="6.5" fill="#f5b85a" stroke="#444" stroke-width="0.6"/>
<text x="28.0" y="277.9" font-size="6.0" fill="#3a3a3a" stroke="#3a3a3a" stroke-width="0.18" text-anchor="start" textLength="35.2" lengthAdjust="spacingAndGlyphs" >ActiveEnhancer</text>
<rect x="19.4" y="279.2" width="5.0" height="6.5" fill="#c8403a" stroke="#444" stroke-width="0.6"/>
<text x="28.0" y="284.4" font-size="6.0" fill="#3a3a3a" stroke="#3a3a3a" stroke-width="0.18" text-anchor="start" textLength="21.8" lengthAdjust="spacingAndGlyphs" >ActiveTSS</text>
<rect x="19.4" y="285.7" width="5.0" height="6.5" fill="#7a4fa0" stroke="#444" stroke-width="0.6"/>
<text x="28.0" y="290.9" font-size="6.0" fill="#3a3a3a" stroke="#3a3a3a" stroke-width="0.18" text-anchor="start" textLength="39.6" lengthAdjust="spacingAndGlyphs" >BivalentPromoter</text>
<rect x="19.4" y="292.2" width="5.0" height="6.5" fill="#a3a9d9" stroke="#444" stroke-width="0.6"/>
<text x="28.0" y="297.4" font-size="6.0" fill="#3a3a3a" stroke="#3a3a3a" stroke-width="0.18" text-anchor="start" textLength="38.9" lengthAdjust="spacingAndGlyphs" >Heterochromatin</text>
<rect x="19.4" y="298.7" width="5.0" height="6.5" fill="#ebc2c2" stroke="#444" stroke-width="0.6"/>
<text x="28.0" y="303.9" font-size="6.0" fill="#3a3a3a" stroke="#3a3a3a" stroke-width="0.18" text-anchor="start" textLength="36.2" lengthAdjust="spacingAndGlyphs" >PoisedPromoter</text>
<rect x="19.4" y="305.2" width="5.0" height="6.5" fill="#f8e06e" stroke="#444" stroke-width="0.6"/>
<text x="28.0" y="310.4" font-size="6.0" fill="#3a3a3a" stroke="#3a3a3a" stroke-width="0.18" text-anchor="start" textLength="32.9" lengthAdjust="spacingAndGlyphs" >PrimaryDNase</text>
<rect x="19.4" y="311.7" width="5.0" height="6.5" fill="#d8602f" stroke="#444" stroke-width="0.6"/>
<text x="28.0" y="316.9" font-size="6.0" fill="#3a3a3a" stroke="#3a3a3a" stroke-width="0.18" text-anchor="start" textLength="21.3" lengthAdjust="spacingAndGlyphs" >Promoter</text>
<rect x="19.4" y="318.2" width="5.0" height="6.5" fill="#ffffff" stroke="#444" stroke-width="0.6"/>
<text x="28.0" y="323.4" font-size="6.0" fill="#3a3a3a" stroke="#3a3a3a" stroke-width="0.18" text-anchor="start" textLength="34.3" lengthAdjust="spacingAndGlyphs" >Quiescent/Low</text>
<rect x="19.4" y="324.7" width="5.0" height="6.5" fill="#8a8a8a" stroke="#444" stroke-width="0.6"/>
<text x="28.0" y="329.9" font-size="6.0" fill="#3a3a3a" stroke="#3a3a3a" stroke-width="0.18" text-anchor="start" textLength="45.6" lengthAdjust="spacingAndGlyphs" >RepressedPolycomb</text>
<rect x="19.4" y="331.2" width="5.0" height="6.5" fill="#c9c743" stroke="#444" stroke-width="0.6"/>
<text x="28.0" y="336.4" font-size="6.0" fill="#3a3a3a" stroke="#3a3a3a" stroke-width="0.18" text-anchor="start" textLength="47.0" lengthAdjust="spacingAndGlyphs" >Transcribed&amp;Regulat</text>
<rect x="19.4" y="337.7" width="5.0" height="6.5" fill="#4d8a3c" stroke="#444" stroke-width="0.6"/>
<text x="28.0" y="342.9" font-size="6.0" fill="#3a3a3a" stroke="#3a3a3a" stroke-width="0.18" text-anchor="start" textLength="29.7" lengthAdjust="spacingAndGlyphs" >Transcription</text>
<rect x="19.4" y="344.2" width="5.0" height="6.5" fill="#f2da44" stroke="#444" stroke-width="0.6"/>
<text x="28.0" y="349.4" font-size="6.0" fill="#3a3a3a" stroke="#3a3a3a" stroke-width="0.18" text-anchor="start" textLength="33.3" lengthAdjust="spacingAndGlyphs" >WeakEnhancer</text>
<rect x="19.4" y="350.7" width="5.0" height="6.5" fill="#5c9b43" stroke="#444" stroke-width="0.6"/>
<text x="28.0" y="355.9" font-size="6.0" fill="#3a3a3a" stroke="#3a3a3a" stroke-width="0.18" text-anchor="start" textLength="41.8" lengthAdjust="spacingAndGlyphs" >WeakTranscription</text>
<rect x="19.4" y="357.2" width="5.0" height="6.5" fill="#9bd0ba" stroke="#444" stroke-width="0.6"/>
<text x="28.0" y="362.4" font-size="6.0" fill="#3a3a3a" stroke="#3a3a3a" stroke-width="0.18" text-anchor="start" textLength="42.8" lengthAdjust="spacingAndGlyphs" >ZNFGene&amp;Repeats</text>
<rect x="82.7" y="215.7" width="430.3" height="152.3" fill="#e7e3e3" />
<rect x="99.8" y="216.8" width="412.40000000000003" height="4.5" fill="#ffffff" />
<text x="98.5" y="220.5" font-size="4.6" fill="#7a7a7a" stroke="#7a7a7a" stroke-width="0.18" text-anchor="end" textLength="9.5" lengthAdjust="spacingAndGlyphs" >E062</text>
<rect x="99.8" y="223.08" width="412.40000000000003" height="4.5" fill="#ffffff" />
<text x="98.5" y="226.78" font-size="4.6" fill="#7a7a7a" stroke="#7a7a7a" stroke-width="0.18" text-anchor="end" textLength="9.5" lengthAdjust="spacingAndGlyphs" >E026</text>
<rect x="99.8" y="229.36" width="412.40000000000003" height="4.5" fill="#ffffff" />
<text x="98.5" y="233.06" font-size="4.6" fill="#7a7a7a" stroke="#7a7a7a" stroke-width="0.18" text-anchor="end" textLength="9.5" lengthAdjust="spacingAndGlyphs" >E032</text>
<rect x="99.8" y="235.64000000000001" width="412.40000000000003" height="4.5" fill="#ffffff" />
<text x="98.5" y="239.34" font-size="4.6" fill="#7a7a7a" stroke="#7a7a7a" stroke-width="0.18" text-anchor="end" textLength="9.5" lengthAdjust="spacingAndGlyphs" >E029</text>
<rect x="99.8" y="241.92000000000002" width="412.40000000000003" height="4.5" fill="#ffffff" />
<text x="98.5" y="245.62" font-size="4.6" fill="#7a7a7a" stroke="#7a7a7a" stroke-width="0.18" text-anchor="end" textLength="9.5" lengthAdjust="spacingAndGlyphs" >E043</text>
<rect x="99.8" y="248.20000000000002" width="412.40000000000003" height="4.5" fill="#ffffff" />
<text x="98.5" y="251.9" font-size="4.6" fill="#7a7a7a" stroke="#7a7a7a" stroke-width="0.18" text-anchor="end" textLength="9.5" lengthAdjust="spacingAndGlyphs" >E044</text>
<rect x="99.8" y="254.48000000000002" width="412.40000000000003" height="4.5" fill="#ffffff" />
<text x="98.5" y="258.18" font-size="4.6" fill="#7a7a7a" stroke="#7a7a7a" stroke-width="0.18" text-anchor="end" textLength="9.5" lengthAdjust="spacingAndGlyphs" >E048</text>
<rect x="99.8" y="260.76" width="412.40000000000003" height="4.5" fill="#ffffff" />
<text x="98.5" y="264.46" font-size="4.6" fill="#7a7a7a" stroke="#7a7a7a" stroke-width="0.18" text-anchor="end" textLength="9.5" lengthAdjust="spacingAndGlyphs" >E050</text>
<rect x="99.8" y="267.04" width="412.40000000000003" height="4.5" fill="#ffffff" />
<text x="98.5" y="270.74" font-size="4.6" fill="#7a7a7a" stroke="#7a7a7a" stroke-width="0.18" text-anchor="end" textLength="9.5" lengthAdjust="spacingAndGlyphs" >E041</text>
<rect x="99.8" y="273.32" width="412.40000000000003" height="4.5" fill="#ffffff" />
<text x="98.5" y="277.02" font-size="4.6" fill="#7a7a7a" stroke="#7a7a7a" stroke-width="0.18" text-anchor="end" textLength="9.5" lengthAdjust="spacingAndGlyphs" >E033</text>
<rect x="99.8" y="279.6" width="412.40000000000003" height="4.5" fill="#ffffff" />
<text x="98.5" y="283.3" font-size="4.6" fill="#7a7a7a" stroke="#7a7a7a" stroke-width="0.18" text-anchor="end" textLength="9.5" lengthAdjust="spacingAndGlyphs" >E034</text>
<rect x="99.8" y="285.88" width="412.40000000000003" height="4.5" fill="#ffffff" />
<text x="98.5" y="289.58" font-size="4.6" fill="#7a7a7a" stroke="#7a7a7a" stroke-width="0.18" text-anchor="end" textLength="9.5" lengthAdjust="spacingAndGlyphs" >E037</text>
<rect x="99.8" y="292.16" width="412.40000000000003" height="4.5" fill="#ffffff" />
<text x="98.5" y="295.86" font-size="4.6" fill="#7a7a7a" stroke="#7a7a7a" stroke-width="0.18" text-anchor="end" textLength="9.5" lengthAdjust="spacingAndGlyphs" >E039</text>
<rect x="99.8" y="298.44" width="412.40000000000003" height="4.5" fill="#ffffff" />
<text x="98.5" y="302.14" font-size="4.6" fill="#7a7a7a" stroke="#7a7a7a" stroke-width="0.18" text-anchor="end" textLength="9.5" lengthAdjust="spacingAndGlyphs" >E040</text>
<rect x="99.8" y="304.72" width="412.40000000000003" height="4.5" fill="#ffffff" />
<text x="98.5" y="308.42" font-size="4.6" fill="#7a7a7a" stroke="#7a7a7a" stroke-width="0.18" text-anchor="end" textLength="9.5" lengthAdjust="spacingAndGlyphs" >E051</text>
<rect x="99.8" y="311.0" width="412.40000000000003" height="4.5" fill="#ffffff" />
<text x="98.5" y="314.7" font-size="4.6" fill="#7a7a7a" stroke="#7a7a7a" stroke-width="0.18" text-anchor="end" textLength="9.5" lengthAdjust="spacingAndGlyphs" >E042</text>
<rect x="99.8" y="317.28000000000003" width="412.40000000000003" height="4.5" fill="#ffffff" />
<text x="98.5" y="320.98" font-size="4.6" fill="#7a7a7a" stroke="#7a7a7a" stroke-width="0.18" text-anchor="end" textLength="9.5" lengthAdjust="spacingAndGlyphs" >E045</text>
<rect x="99.8" y="323.56" width="412.40000000000003" height="4.5" fill="#ffffff" />
<text x="98.5" y="327.26" font-size="4.6" fill="#7a7a7a" stroke="#7a7a7a" stroke-width="0.18" text-anchor="end" textLength="9.5" lengthAdjust="spacingAndGlyphs" >E046</text>
<rect x="99.8" y="329.84000000000003" width="412.40000000000003" height="4.5" fill="#ffffff" />
<text x="98.5" y="333.54" font-size="4.6" fill="#7a7a7a" stroke="#7a7a7a" stroke-width="0.18" text-anchor="end" textLength="9.5" lengthAdjust="spacingAndGlyphs" >E031</text>
<rect x="99.8" y="336.12" width="412.40000000000003" height="4.5" fill="#ffffff" />
<text x="98.5" y="339.82" font-size="4.6" fill="#7a7a7a" stroke="#7a7a7a" stroke-width="0.18" text-anchor="end" textLength="9.5" lengthAdjust="spacingAndGlyphs" >E035</text>
<rect x="99.8" y="342.40000000000003" width="412.40000000000003" height="4.5" fill="#ffffff" />
<text x="98.5" y="346.1" font-size="4.6" fill="#7a7a7a" stroke="#7a7a7a" stroke-width="0.18" text-anchor="end" textLength="9.5" lengthAdjust="spacingAndGlyphs" >E036</text>
<rect x="99.8" y="348.68" width="412.40000000000003" height="4.5" fill="#ffffff" />
<text x="98.5" y="352.38" font-size="4.6" fill="#7a7a7a" stroke="#7a7a7a" stroke-width="0.18" text-anchor="end" textLength="9.5" lengthAdjust="spacingAndGlyphs" >E038</text>
<rect x="99.8" y="354.96000000000004" width="412.40000000000003" height="4.5" fill="#ffffff" />
<text x="98.5" y="358.66" font-size="4.6" fill="#7a7a7a" stroke="#7a7a7a" stroke-width="0.18" text-anchor="end" textLength="9.5" lengthAdjust="spacingAndGlyphs" >E047</text>
<rect x="99.8" y="361.24" width="412.40000000000003" height="4.5" fill="#ffffff" />
<text x="98.5" y="364.94" font-size="4.6" fill="#7a7a7a" stroke="#7a7a7a" stroke-width="0.18" text-anchor="end" textLength="9.5" lengthAdjust="spacingAndGlyphs" >E000</text>
<rect x="100.0" y="216.8" width="1.5" height="4.5" fill="#f5b860" />
<rect x="101.5" y="216.8" width="2.1" height="4.5" fill="#e05a30" />
<rect x="106.9" y="216.8" width="1.6" height="4.5" fill="#e05a30" />
<rect x="116.0" y="216.8" width="1.5" height="4.5" fill="#c4c440" />
<rect x="117.5" y="216.8" width="1.0" height="4.5" fill="#f8d840" />
<rect x="118.5" y="216.8" width="2.5" height="4.5" fill="#2a9a3a" />
<rect x="121.0" y="216.8" width="1.0" height="4.5" fill="#f8d840" />
<rect x="128.9" y="216.8" width="1.1" height="4.5" fill="#f9e690" />
<rect x="133.0" y="216.8" width="2.0" height="4.5" fill="#f5b860" />
<rect x="135.0" y="216.8" width="2.0" height="4.5" fill="#2a9a3a" />
<rect x="137.0" y="216.8" width="2.0" height="4.5" fill="#e05a30" />
<rect x="139.0" y="216.8" width="4.0" height="4.5" fill="#f5b860" />
<rect x="143.0" y="216.8" width="2.0" height="4.5" fill="#c4c440" />
<rect x="145.0" y="216.8" width="9.0" height="4.5" fill="#f5b860" />
<rect x="154.0" y="216.8" width="1.0" height="4.5" fill="#eea048" />
<rect x="155.0" y="216.8" width="1.0" height="4.5" fill="#2a9a3a" />
<rect x="156.0" y="216.8" width="6.0" height="4.5" fill="#f5b860" />
<rect x="167.5" y="216.8" width="1.5" height="4.5" fill="#fcedb0" />
<rect x="170.0" y="216.8" width="2.0" height="4.5" fill="#eea048" />
<rect x="172.0" y="216.8" width="1.0" height="4.5" fill="#e05a30" />
<rect x="173.0" y="216.8" width="1.0" height="4.5" fill="#5fb0a0" />
<rect x="174.5" y="216.8" width="2.5" height="4.5" fill="#c4c440" />
<rect x="177.0" y="216.8" width="2.0" height="4.5" fill="#f8d840" />
<rect x="179.0" y="216.8" width="4.5" height="4.5" fill="#2a9a3a" />
<rect x="183.5" y="216.8" width="3.0" height="4.5" fill="#c4c440" />
<rect x="186.5" y="216.8" width="1.5" height="4.5" fill="#c4c440" />
<rect x="188.0" y="216.8" width="2.0" height="4.5" fill="#f8d840" />
<rect x="190.0" y="216.8" width="3.0" height="4.5" fill="#f5b860" />
<rect x="193.5" y="216.8" width="12.5" height="4.5" fill="#2a9a3a" />
<rect x="206.0" y="216.8" width="1.0" height="4.5" fill="#f8d840" />
<rect x="207.0" y="216.8" width="1.0" height="4.5" fill="#2a9a3a" />
<rect x="208.0" y="216.8" width="1.0" height="4.5" fill="#c4c440" />
<rect x="209.0" y="216.8" width="1.0" height="4.5" fill="#2a9a3a" />
<rect x="210.0" y="216.8" width="1.0" height="4.5" fill="#f8d840" />
<rect x="211.0" y="216.8" width="1.5" height="4.5" fill="#eea048" />
<rect x="216.0" y="216.8" width="1.0" height="4.5" fill="#fcedb0" />
<rect x="228.5" y="216.8" width="1.0" height="4.5" fill="#f8d840" />
<rect x="229.5" y="216.8" width="0.7" height="4.5" fill="#c4c440" />
<rect x="231.5" y="216.8" width="1.0" height="4.5" fill="#fcedb0" />
<rect x="233.5" y="216.8" width="3.5" height="4.5" fill="#2a9a3a" />
<rect x="237.0" y="216.8" width="1.5" height="4.5" fill="#8f97d0" />
<rect x="238.5" y="216.8" width="7.5" height="4.5" fill="#2a9a3a" />
<rect x="246.0" y="216.8" width="3.5" height="4.5" fill="#f5b860" />
<rect x="250.5" y="216.8" width="1.0" height="4.5" fill="#f8d840" />
<rect x="252.0" y="216.8" width="5.0" height="4.5" fill="#2a9a3a" />
<rect x="257.0" y="216.8" width="1.0" height="4.5" fill="#f8d840" />
<rect x="258.0" y="216.8" width="2.5" height="4.5" fill="#f5b860" />
<rect x="263.5" y="216.8" width="1.0" height="4.5" fill="#fcedb0" />
<rect x="268.0" y="216.8" width="1.5" height="4.5" fill="#e9b9b9" />
<rect x="273.0" y="216.8" width="3.0" height="4.5" fill="#f5b860" />
<rect x="277.5" y="216.8" width="1.5" height="4.5" fill="#8a8a8a" />
<rect x="280.5" y="216.8" width="1.0" height="4.5" fill="#fcedb0" />
<rect x="282.5" y="216.8" width="3.5" height="4.5" fill="#eea048" />
<rect x="286.0" y="216.8" width="1.0" height="4.5" fill="#8a8a8a" />
<rect x="289.5" y="216.8" width="1.0" height="4.5" fill="#fcedb0" />
<rect x="292.5" y="216.8" width="0.8" height="4.5" fill="#8a8a8a" />
<rect x="294.0" y="216.8" width="1.0" height="4.5" fill="#fcedb0" />
<rect x="296.0" y="216.8" width="1.0" height="4.5" fill="#fcedb0" />
<rect x="305.5" y="216.8" width="1.0" height="4.5" fill="#b0b0b0" />
<rect x="307.5" y="216.8" width="1.0" height="4.5" fill="#fcedb0" />
<rect x="313.0" y="216.8" width="1.0" height="4.5" fill="#fcedb0" />
<rect x="315.5" y="216.8" width="1.0" height="4.5" fill="#f8d840" />
<rect x="317.5" y="216.8" width="1.5" height="4.5" fill="#555555" />
<rect x="323.5" y="216.8" width="1.5" height="4.5" fill="#eea048" />
<rect x="328.0" y="216.8" width="1.0" height="4.5" fill="#b0b0b0" />
<rect x="340.0" y="216.8" width="1.0" height="4.5" fill="#fcedb0" />
<rect x="344.5" y="216.8" width="1.5" height="4.5" fill="#eea048" />
<rect x="349.5" y="216.8" width="1.0" height="4.5" fill="#8a8a8a" />
<rect x="354.0" y="216.8" width="1.5" height="4.5" fill="#8a8a8a" />
<rect x="356.5" y="216.8" width="1.0" height="4.5" fill="#b0b0b0" />
<rect x="362.0" y="216.8" width="1.0" height="4.5" fill="#e9b9b9" />
<rect x="371.0" y="216.8" width="1.0" height="4.5" fill="#8f97d0" />
<rect x="386.5" y="216.8" width="1.0" height="4.5" fill="#8f97d0" />
<rect x="417.5" y="216.8" width="1.0" height="4.5" fill="#fcedb0" />
<rect x="419.0" y="216.8" width="6.5" height="4.5" fill="#8a8a8a" />
<rect x="433.0" y="216.8" width="1.0" height="4.5" fill="#fcedb0" />
<rect x="435.5" y="216.8" width="1.0" height="4.5" fill="#fcedb0" />
<rect x="439.0" y="216.8" width="1.0" height="4.5" fill="#fcedb0" />
<rect x="445.0" y="216.8" width="1.0" height="4.5" fill="#fcedb0" />
<rect x="447.5" y="216.8" width="4.0" height="4.5" fill="#8a8a8a" />
<rect x="456.0" y="216.8" width="1.5" height="4.5" fill="#8a8a8a" />
<rect x="460.0" y="216.8" width="1.0" height="4.5" fill="#8a8a8a" />
<rect x="463.5" y="216.8" width="1.0" height="4.5" fill="#7080c0" />
<rect x="465.5" y="216.8" width="1.0" height="4.5" fill="#fcedb0" />
<rect x="467.0" y="216.8" width="4.0" height="4.5" fill="#8a8a8a" />
<rect x="477.0" y="216.8" width="1.0" height="4.5" fill="#8a8a8a" />
<rect x="479.5" y="216.8" width="1.5" height="4.5" fill="#f8d840" />
<rect x="498.5" y="216.8" width="1.0" height="4.5" fill="#fcedb0" />
<rect x="503.0" y="216.8" width="1.5" height="4.5" fill="#eea048" />
<rect x="100.0" y="223.08" width="2.5" height="4.5" fill="#f8d840" />
<rect x="107.1" y="223.08" width="1.0" height="4.5" fill="#fcedb0" />
<rect x="110.2" y="223.08" width="1.0" height="4.5" fill="#fcedb0" />
<rect x="116.7" y="223.08" width="1.1" height="4.5" fill="#f8d840" />
<rect x="117.8" y="223.08" width="1.0" height="4.5" fill="#f5b860" />
<rect x="128.9" y="223.08" width="1.0" height="4.5" fill="#fcedb0" />
<rect x="137.3" y="223.08" width="1.7" height="4.5" fill="#f5b860" />
<rect x="146.6" y="223.08" width="1.0" height="4.5" fill="#fcedb0" />
<rect x="153.0" y="223.08" width="1.0" height="4.5" fill="#fcedb0" />
<rect x="158.0" y="223.08" width="1.0" height="4.5" fill="#f9e690" />
<rect x="160.5" y="223.08" width="1.0" height="4.5" fill="#fcedb0" />
<rect x="168.0" y="223.08" width="1.0" height="4.5" fill="#f8d840" />
<rect x="171.0" y="223.08" width="2.0" height="4.5" fill="#a06a80" />
<rect x="173.0" y="223.08" width="5.0" height="4.5" fill="#8f97d0" />
<rect x="183.0" y="223.08" width="1.0" height="4.5" fill="#f8d840" />
<rect x="186.0" y="223.08" width="1.0" height="4.5" fill="#fcedb0" />
<rect x="193.0" y="223.08" width="1.0" height="4.5" fill="#fcedb0" />
<rect x="198.0" y="223.08" width="1.0" height="4.5" fill="#f8d840" />
<rect x="207.0" y="223.08" width="1.0" height="4.5" fill="#fcedb0" />
<rect x="209.5" y="223.08" width="1.0" height="4.5" fill="#fcedb0" />
<rect x="211.5" y="223.08" width="1.0" height="4.5" fill="#a06a80" />
<rect x="236.0" y="223.08" width="1.0" height="4.5" fill="#f8d840" />
<rect x="237.5" y="223.08" width="1.5" height="4.5" fill="#8f97d0" />
<rect x="247.0" y="223.08" width="1.5" height="4.5" fill="#eea048" />
<rect x="253.5" y="223.08" width="1.0" height="4.5" fill="#fcedb0" />
<rect x="256.5" y="223.08" width="1.0" height="4.5" fill="#eea048" />
<rect x="258.5" y="223.08" width="1.0" height="4.5" fill="#f8d840" />
<rect x="268.5" y="223.08" width="1.5" height="4.5" fill="#eea048" />
<rect x="273.5" y="223.08" width="1.0" height="4.5" fill="#f8d840" />
<rect x="274.5" y="223.08" width="1.0" height="4.5" fill="#5aaa40" />
<rect x="286.5" y="223.08" width="1.0" height="4.5" fill="#fcedb0" />
<rect x="290.5" y="223.08" width="1.0" height="4.5" fill="#f8d840" />
<rect x="296.5" y="223.08" width="1.0" height="4.5" fill="#fcedb0" />
<rect x="304.0" y="223.08" width="1.5" height="4.5" fill="#f8d840" />
<rect x="307.5" y="223.08" width="1.0" height="4.5" fill="#fcedb0" />
<rect x="313.5" y="223.08" width="1.0" height="4.5" fill="#fcedb0" />
<rect x="321.5" y="223.08" width="1.0" height="4.5" fill="#fcedb0" />
<rect x="344.0" y="223.08" width="1.0" height="4.5" fill="#fcedb0" />
<rect x="362.0" y="223.08" width="1.0" height="4.5" fill="#e05a30" />
<rect x="363.0" y="223.08" width="1.0" height="4.5" fill="#f8d840" />
<rect x="364.0" y="223.08" width="6.5" height="4.5" fill="#2a9a3a" />
<rect x="370.5" y="223.08" width="4.0" height="4.5" fill="#f5b860" />
<rect x="386.5" y="223.08" width="1.0" height="4.5" fill="#8f97d0" />
<rect x="393.0" y="223.08" width="2.0" height="4.5" fill="#f8d840" />
<rect x="416.0" y="223.08" width="2.0" height="4.5" fill="#f8d840" />
<rect x="418.0" y="223.08" width="2.0" height="4.5" fill="#f5b860" />
<rect x="420.0" y="223.08" width="2.0" height="4.5" fill="#f8d840" />
<rect x="422.0" y="223.08" width="2.0" height="4.5" fill="#2a9a3a" />
<rect x="433.0" y="223.08" width="1.0" height="4.5" fill="#f8d840" />
<rect x="439.0" y="223.08" width="1.0" height="4.5" fill="#fcedb0" />
<rect x="445.0" y="223.08" width="1.0" height="4.5" fill="#fcedb0" />
<rect x="466.0" y="223.08" width="1.0" height="4.5" fill="#fcedb0" />
<rect x="479.5" y="223.08" width="1.0" height="4.5" fill="#fcedb0" />
<rect x="481.5" y="223.08" width="1.0" height="4.5" fill="#fcedb0" />
<rect x="494.5" y="223.08" width="1.0" height="4.5" fill="#fcedb0" />
<rect x="498.5" y="223.08" width="1.0" height="4.5" fill="#f8d840" />
<rect x="503.0" y="223.08" width="1.0" height="4.5" fill="#fcedb0" />
<rect x="508.0" y="223.08" width="1.0" height="4.5" fill="#fcedb0" />
<rect x="100.0" y="229.36" width="3.0" height="4.5" fill="#f5b860" />
<rect x="106.9" y="229.36" width="1.3" height="4.5" fill="#f8d840" />
<rect x="110.2" y="229.36" width="1.0" height="4.5" fill="#fcedb0" />
<rect x="116.7" y="229.36" width="1.1" height="4.5" fill="#f5b860" />
<rect x="117.8" y="229.36" width="1.2" height="4.5" fill="#eea048" />
<rect x="128.9" y="229.36" width="1.0" height="4.5" fill="#fcedb0" />
<rect x="137.3" y="229.36" width="1.7" height="4.5" fill="#f5b860" />
<rect x="158.5" y="229.36" width="1.0" height="4.5" fill="#fcedb0" />
<rect x="167.5" y="229.36" width="1.5" height="4.5" fill="#f8d840" />
<rect x="171.0" y="229.36" width="2.0" height="4.5" fill="#a06a80" />
<rect x="173.0" y="229.36" width="5.0" height="4.5" fill="#8f97d0" />
<rect x="198.0" y="229.36" width="1.0" height="4.5" fill="#f8d840" />
<rect x="209.0" y="229.36" width="1.5" height="4.5" fill="#f8d840" />
<rect x="211.0" y="229.36" width="1.0" height="4.5" fill="#eea048" />
<rect x="220.0" y="229.36" width="1.0" height="4.5" fill="#fcedb0" />
<rect x="236.0" y="229.36" width="1.0" height="4.5" fill="#f8d840" />
<rect x="237.5" y="229.36" width="1.5" height="4.5" fill="#8f97d0" />
<rect x="247.0" y="229.36" width="1.5" height="4.5" fill="#eea048" />
<rect x="253.5" y="229.36" width="1.0" height="4.5" fill="#fcedb0" />
<rect x="256.5" y="229.36" width="1.0" height="4.5" fill="#fcedb0" />
<rect x="258.5" y="229.36" width="1.0" height="4.5" fill="#f8d840" />
<rect x="268.5" y="229.36" width="2.5" height="4.5" fill="#eea048" />
<rect x="273.5" y="229.36" width="2.5" height="4.5" fill="#f8d840" />
<rect x="278.5" y="229.36" width="1.0" height="4.5" fill="#f8d840" />
<rect x="286.5" y="229.36" width="1.0" height="4.5" fill="#fcedb0" />
<rect x="290.5" y="229.36" width="1.0" height="4.5" fill="#f8d840" />
<rect x="304.0" y="229.36" width="1.0" height="4.5" fill="#fcedb0" />
<rect x="307.5" y="229.36" width="1.0" height="4.5" fill="#fcedb0" />
<rect x="313.0" y="229.36" width="1.0" height="4.5" fill="#f8d840" />
<rect x="316.0" y="229.36" width="2.0" height="4.5" fill="#f8d840" />
<rect x="344.0" y="229.36" width="1.0" height="4.5" fill="#fcedb0" />
<rect x="362.0" y="229.36" width="1.0" height="4.5" fill="#e05a30" />
<rect x="363.0" y="229.36" width="3.0" height="4.5" fill="#f8d840" />
<rect x="366.0" y="229.36" width="4.5" height="4.5" fill="#2a9a3a" />
<rect x="370.5" y="229.36" width="4.5" height="4.5" fill="#f5b860" />
<rect x="386.5" y="229.36" width="1.0" height="4.5" fill="#5fb0a0" />
<rect x="393.0" y="229.36" width="2.0" height="4.5" fill="#f8d840" />
<rect x="416.0" y="229.36" width="2.0" height="4.5" fill="#f5b860" />
<rect x="418.0" y="229.36" width="2.5" height="4.5" fill="#eea048" />
<rect x="420.5" y="229.36" width="1.5" height="4.5" fill="#f8d840" />
<rect x="422.0" y="229.36" width="1.5" height="4.5" fill="#2a9a3a" />
<rect x="427.0" y="229.36" width="1.0" height="4.5" fill="#fcedb0" />
<rect x="429.5" y="229.36" width="1.0" height="4.5" fill="#fcedb0" />
<rect x="432.0" y="229.36" width="3.0" height="4.5" fill="#f8d840" />
<rect x="439.5" y="229.36" width="1.0" height="4.5" fill="#f8d840" />
<rect x="445.5" y="229.36" width="1.0" height="4.5" fill="#fcedb0" />
<rect x="466.0" y="229.36" width="1.0" height="4.5" fill="#fcedb0" />
<rect x="479.5" y="229.36" width="1.0" height="4.5" fill="#fcedb0" />
<rect x="481.5" y="229.36" width="1.0" height="4.5" fill="#fcedb0" />
<rect x="498.5" y="229.36" width="1.0" height="4.5" fill="#f8d840" />
<rect x="508.5" y="229.36" width="1.5" height="4.5" fill="#fcedb0" />
<rect x="101.0" y="235.64" width="1.5" height="4.5" fill="#f5b860" />
<rect x="106.4" y="235.64" width="1.0" height="4.5" fill="#fcedb0" />
<rect x="110.2" y="235.64" width="1.0" height="4.5" fill="#fcedb0" />
<rect x="116.7" y="235.64" width="1.3" height="4.5" fill="#eea048" />
<rect x="118.0" y="235.64" width="1.5" height="4.5" fill="#e05a30" />
<rect x="128.9" y="235.64" width="1.0" height="4.5" fill="#fcedb0" />
<rect x="134.5" y="235.64" width="1.0" height="4.5" fill="#fcedb0" />
<rect x="137.0" y="235.64" width="2.0" height="4.5" fill="#e05a30" />
<rect x="139.0" y="235.64" width="1.5" height="4.5" fill="#c4c440" />
<rect x="140.5" y="235.64" width="2.5" height="4.5" fill="#e05a30" />
<rect x="143.0" y="235.64" width="5.0" height="4.5" fill="#c4c440" />
<rect x="148.0" y="235.64" width="1.5" height="4.5" fill="#f5b860" />
<rect x="149.5" y="235.64" width="8.0" height="4.5" fill="#2a9a3a" />
<rect x="157.5" y="235.64" width="1.5" height="4.5" fill="#f5b860" />
<rect x="159.0" y="235.64" width="1.0" height="4.5" fill="#f8d840" />
<rect x="160.5" y="235.64" width="1.0" height="4.5" fill="#e9b9b9" />
<rect x="166.5" y="235.64" width="2.5" height="4.5" fill="#f5b860" />
<rect x="169.0" y="235.64" width="2.0" height="4.5" fill="#eea048" />
<rect x="171.0" y="235.64" width="2.0" height="4.5" fill="#e05a30" />
<rect x="173.0" y="235.64" width="1.0" height="4.5" fill="#c4c440" />
<rect x="174.0" y="235.64" width="1.5" height="4.5" fill="#a06a80" />
<rect x="175.5" y="235.64" width="1.0" height="4.5" fill="#c4c440" />
<rect x="176.5" y="235.64" width="1.0" height="4.5" fill="#eea048" />
<rect x="178.0" y="235.64" width="15.5" height="4.5" fill="#2a9a3a" />
<rect x="198.0" y="235.64" width="1.0" height="4.5" fill="#fcedb0" />
<rect x="206.5" y="235.64" width="1.0" height="4.5" fill="#fcedb0" />
<rect x="209.0" y="235.64" width="1.0" height="4.5" fill="#f8d840" />
<rect x="211.0" y="235.64" width="1.5" height="4.5" fill="#e05a30" />
<rect x="220.0" y="235.64" width="1.0" height="4.5" fill="#fcedb0" />
<rect x="236.0" y="235.64" width="1.0" height="4.5" fill="#eea048" />
<rect x="237.5" y="235.64" width="1.5" height="4.5" fill="#8f97d0" />
<rect x="247.0" y="235.64" width="2.0" height="4.5" fill="#f5b860" />
<rect x="253.5" y="235.64" width="1.0" height="4.5" fill="#fcedb0" />
<rect x="257.0" y="235.64" width="1.0" height="4.5" fill="#eea048" />
<rect x="258.0" y="235.64" width="1.0" height="4.5" fill="#5aaa40" />
<rect x="259.0" y="235.64" width="1.0" height="4.5" fill="#f8d840" />
<rect x="268.5" y="235.64" width="2.5" height="4.5" fill="#eea048" />
<rect x="273.5" y="235.64" width="2.5" height="4.5" fill="#f8d840" />
<rect x="276.0" y="235.64" width="1.0" height="4.5" fill="#5aaa40" />
<rect x="278.0" y="235.64" width="1.0" height="4.5" fill="#fcedb0" />
<rect x="286.5" y="235.64" width="1.0" height="4.5" fill="#fcedb0" />
<rect x="290.0" y="235.64" width="1.0" height="4.5" fill="#f8d840" />
<rect x="304.0" y="235.64" width="1.0" height="4.5" fill="#fcedb0" />
<rect x="313.0" y="235.64" width="1.0" height="4.5" fill="#fcedb0" />
<rect x="316.0" y="235.64" width="1.5" height="4.5" fill="#eea048" />
<rect x="344.5" y="235.64" width="1.0" height="4.5" fill="#e9b9b9" />
<rect x="362.0" y="235.64" width="1.0" height="4.5" fill="#e05a30" />
<rect x="363.0" y="235.64" width="1.0" height="4.5" fill="#c4c440" />
<rect x="364.0" y="235.64" width="2.0" height="4.5" fill="#f5b860" />
<rect x="366.0" y="235.64" width="2.5" height="4.5" fill="#2a9a3a" />
<rect x="368.5" y="235.64" width="6.5" height="4.5" fill="#f5b860" />
<rect x="386.5" y="235.64" width="1.0" height="4.5" fill="#5fb0a0" />
<rect x="393.0" y="235.64" width="1.5" height="4.5" fill="#f8d840" />
<rect x="403.0" y="235.64" width="1.0" height="4.5" fill="#fcedb0" />
<rect x="416.0" y="235.64" width="4.5" height="4.5" fill="#f5b860" />
<rect x="420.5" y="235.64" width="3.5" height="4.5" fill="#f8d840" />
<rect x="429.0" y="235.64" width="1.0" height="4.5" fill="#fcedb0" />
<rect x="432.0" y="235.64" width="1.0" height="4.5" fill="#2a9a3a" />
<rect x="433.0" y="235.64" width="1.5" height="4.5" fill="#eea048" />
<rect x="439.5" y="235.64" width="1.0" height="4.5" fill="#f8d840" />
<rect x="445.5" y="235.64" width="1.0" height="4.5" fill="#fcedb0" />
<rect x="464.5" y="235.64" width="1.0" height="4.5" fill="#8a8a8a" />
<rect x="479.5" y="235.64" width="1.0" height="4.5" fill="#fcedb0" />
<rect x="498.5" y="235.64" width="1.0" height="4.5" fill="#f8d840" />
<rect x="502.0" y="235.64" width="1.0" height="4.5" fill="#b0b0b0" />
<rect x="509.5" y="235.64" width="1.0" height="4.5" fill="#fcedb0" />
<rect x="100.0" y="241.92" width="2.5" height="4.5" fill="#f8d840" />
<rect x="106.4" y="241.92" width="1.0" height="4.5" fill="#fcedb0" />
<rect x="110.2" y="241.92" width="1.0" height="4.5" fill="#fcedb0" />
<rect x="116.7" y="241.92" width="2.3" height="4.5" fill="#f8d840" />
<rect x="128.9" y="241.92" width="1.0" height="4.5" fill="#fcedb0" />
<rect x="137.3" y="241.92" width="1.7" height="4.5" fill="#f8d840" />
<rect x="158.5" y="241.92" width="2.5" height="4.5" fill="#f8d840" />
<rect x="167.5" y="241.92" width="1.5" height="4.5" fill="#f8d840" />
<rect x="171.0" y="241.92" width="2.0" height="4.5" fill="#7a5a9a" />
<rect x="173.5" y="241.92" width="4.5" height="4.5" fill="#8f97d0" />
<rect x="183.0" y="241.92" width="1.0" height="4.5" fill="#fcedb0" />
<rect x="198.0" y="241.92" width="1.0" height="4.5" fill="#f8d840" />
<rect x="209.0" y="241.92" width="1.0" height="4.5" fill="#fcedb0" />
<rect x="211.0" y="241.92" width="1.5" height="4.5" fill="#7a5a9a" />
<rect x="236.0" y="241.92" width="1.0" height="4.5" fill="#fcedb0" />
<rect x="237.5" y="241.92" width="1.0" height="4.5" fill="#8f97d0" />
<rect x="245.5" y="241.92" width="1.0" height="4.5" fill="#2a9a3a" />
<rect x="246.5" y="241.92" width="1.5" height="4.5" fill="#f8d840" />
<rect x="258.5" y="241.92" width="1.0" height="4.5" fill="#f8d840" />
<rect x="268.5" y="241.92" width="1.0" height="4.5" fill="#eea048" />
<rect x="273.5" y="241.92" width="3.0" height="4.5" fill="#f8d840" />
<rect x="278.5" y="241.92" width="1.0" height="4.5" fill="#f8d840" />
<rect x="286.5" y="241.92" width="1.0" height="4.5" fill="#fcedb0" />
<rect x="290.0" y="241.92" width="1.0" height="4.5" fill="#f8d840" />
<rect x="296.0" y="241.92" width="1.0" height="4.5" fill="#fcedb0" />
<rect x="305.0" y="241.92" width="1.0" height="4.5" fill="#f8d840" />
<rect x="306.0" y="241.92" width="2.0" height="4.5" fill="#2a9a3a" />
<rect x="308.0" y="241.92" width="1.0" height="4.5" fill="#f8d840" />
<rect x="313.0" y="241.92" width="1.0" height="4.5" fill="#fcedb0" />
<rect x="316.0" y="241.92" width="1.0" height="4.5" fill="#f8d840" />
<rect x="331.5" y="241.92" width="1.0" height="4.5" fill="#fcedb0" />
<rect x="344.5" y="241.92" width="2.5" height="4.5" fill="#e9b9b9" />
<rect x="362.0" y="241.92" width="1.0" height="4.5" fill="#e05a30" />
<rect x="363.0" y="241.92" width="3.0" height="4.5" fill="#f8d840" />
<rect x="366.0" y="241.92" width="4.5" height="4.5" fill="#2a9a3a" />
<rect x="370.5" y="241.92" width="4.0" height="4.5" fill="#f8d840" />
<rect x="386.5" y="241.92" width="1.0" height="4.5" fill="#8f97d0" />
<rect x="393.0" y="241.92" width="2.0" height="4.5" fill="#f8d840" />
<rect x="411.5" y="241.92" width="1.0" height="4.5" fill="#8f97d0" />
<rect x="416.0" y="241.92" width="2.0" height="4.5" fill="#f8d840" />
<rect x="418.0" y="241.92" width="2.0" height="4.5" fill="#f5b860" />
<rect x="420.0" y="241.92" width="4.5" height="4.5" fill="#f8d840" />
<rect x="433.0" y="241.92" width="1.0" height="4.5" fill="#f8d840" />
<rect x="439.0" y="241.92" width="1.0" height="4.5" fill="#f8d840" />
<rect x="445.5" y="241.92" width="1.0" height="4.5" fill="#fcedb0" />
<rect x="466.0" y="241.92" width="1.0" height="4.5" fill="#fcedb0" />
<rect x="479.5" y="241.92" width="2.0" height="4.5" fill="#f8d840" />
<rect x="498.5" y="241.92" width="1.0" height="4.5" fill="#f8d840" />
<rect x="508.5" y="241.92" width="1.0" height="4.5" fill="#fcedb0" />
<rect x="100.0" y="248.2" width="1.5" height="4.5" fill="#f8d840" />
<rect x="106.4" y="248.2" width="1.0" height="4.5" fill="#fcedb0" />
<rect x="108.0" y="248.2" width="1.0" height="4.5" fill="#fcedb0" />
<rect x="110.2" y="248.2" width="1.0" height="4.5" fill="#fcedb0" />
<rect x="116.7" y="248.2" width="2.3" height="4.5" fill="#f5b860" />
<rect x="128.9" y="248.2" width="1.0" height="4.5" fill="#fcedb0" />
<rect x="137.3" y="248.2" width="1.2" height="4.5" fill="#e9b9b9" />
<rect x="158.0" y="248.2" width="1.0" height="4.5" fill="#fcedb0" />
<rect x="167.5" y="248.2" width="1.5" height="4.5" fill="#f8d840" />
<rect x="171.0" y="248.2" width="1.5" height="4.5" fill="#a06a80" />
<rect x="173.5" y="248.2" width="4.5" height="4.5" fill="#8f97d0" />
<rect x="183.0" y="248.2" width="1.0" height="4.5" fill="#fcedb0" />
<rect x="198.0" y="248.2" width="1.0" height="4.5" fill="#fcedb0" />
<rect x="211.0" y="248.2" width="1.5" height="4.5" fill="#a06a80" />
<rect x="220.0" y="248.2" width="1.0" height="4.5" fill="#fcedb0" />
<rect x="236.0" y="248.2" width="1.0" height="4.5" fill="#f8d840" />
<rect x="237.5" y="248.2" width="1.0" height="4.5" fill="#8f97d0" />
<rect x="247.0" y="248.2" width="1.0" height="4.5" fill="#f8d840" />
<rect x="253.5" y="248.2" width="1.0" height="4.5" fill="#fcedb0" />
<rect x="256.5" y="248.2" width="1.0" height="4.5" fill="#fcedb0" />
<rect x="258.5" y="248.2" width="1.0" height="4.5" fill="#fcedb0" />
<rect x="268.5" y="248.2" width="1.5" height="4.5" fill="#f5b860" />
<rect x="270.0" y="248.2" width="1.5" height="4.5" fill="#c4c440" />
<rect x="273.5" y="248.2" width="1.0" height="4.5" fill="#2a9a3a" />
<rect x="274.5" y="248.2" width="1.0" height="4.5" fill="#f8d840" />
<rect x="278.0" y="248.2" width="2.5" height="4.5" fill="#f8d840" />
<rect x="286.5" y="248.2" width="1.0" height="4.5" fill="#fcedb0" />
<rect x="290.0" y="248.2" width="1.0" height="4.5" fill="#fcedb0" />
<rect x="291.5" y="248.2" width="1.5" height="4.5" fill="#5aaa40" />
<rect x="304.0" y="248.2" width="1.0" height="4.5" fill="#fcedb0" />
<rect x="307.5" y="248.2" width="1.0" height="4.5" fill="#fcedb0" />
<rect x="313.5" y="248.2" width="1.0" height="4.5" fill="#f8d840" />
<rect x="316.0" y="248.2" width="1.0" height="4.5" fill="#b0b0b0" />
<rect x="362.0" y="248.2" width="1.0" height="4.5" fill="#e05a30" />
<rect x="363.0" y="248.2" width="1.0" height="4.5" fill="#f8d840" />
<rect x="364.0" y="248.2" width="6.5" height="4.5" fill="#2a9a3a" />
<rect x="370.5" y="248.2" width="4.0" height="4.5" fill="#f5b860" />
<rect x="386.5" y="248.2" width="1.0" height="4.5" fill="#2a9a3a" />
<rect x="393.0" y="248.2" width="1.0" height="4.5" fill="#fcedb0" />
<rect x="400.5" y="248.2" width="1.5" height="4.5" fill="#f8d840" />
<rect x="411.5" y="248.2" width="1.0" height="4.5" fill="#8f97d0" />
<rect x="414.0" y="248.2" width="2.0" height="4.5" fill="#2a9a3a" />
<rect x="416.0" y="248.2" width="2.0" height="4.5" fill="#f8d840" />
<rect x="418.0" y="248.2" width="2.0" height="4.5" fill="#f5b860" />
<rect x="420.0" y="248.2" width="1.5" height="4.5" fill="#e9b9b9" />
<rect x="421.5" y="248.2" width="3.0" height="4.5" fill="#f5b860" />
<rect x="430.0" y="248.2" width="3.0" height="4.5" fill="#f8d840" />
<rect x="433.0" y="248.2" width="1.0" height="4.5" fill="#fcedb0" />
<rect x="440.0" y="248.2" width="8.5" height="4.5" fill="#2a9a3a" />
<rect x="466.0" y="248.2" width="1.0" height="4.5" fill="#fcedb0" />
<rect x="480.0" y="248.2" width="1.5" height="4.5" fill="#f8d840" />
<rect x="498.5" y="248.2" width="1.0" height="4.5" fill="#f5b860" />
<rect x="510.0" y="248.2" width="1.5" height="4.5" fill="#f8d840" />
<rect x="100.5" y="254.48" width="2.0" height="4.5" fill="#f8d840" />
<rect x="107.0" y="254.48" width="1.0" height="4.5" fill="#fcedb0" />
<rect x="116.7" y="254.48" width="1.1" height="4.5" fill="#f8d840" />
<rect x="117.8" y="254.48" width="1.7" height="4.5" fill="#eea048" />
<rect x="128.9" y="254.48" width="1.0" height="4.5" fill="#fcedb0" />
<rect x="137.3" y="254.48" width="1.5" height="4.5" fill="#eea048" />
<rect x="146.5" y="254.48" width="1.0" height="4.5" fill="#fcedb0" />
<rect x="158.0" y="254.48" width="1.0" height="4.5" fill="#fcedb0" />
<rect x="167.0" y="254.48" width="2.0" height="4.5" fill="#f8d840" />
<rect x="171.0" y="254.48" width="2.0" height="4.5" fill="#a06a80" />
<rect x="174.0" y="254.48" width="4.0" height="4.5" fill="#8f97d0" />
<rect x="183.0" y="254.48" width="1.0" height="4.5" fill="#fcedb0" />
<rect x="198.0" y="254.48" width="1.0" height="4.5" fill="#fcedb0" />
<rect x="209.0" y="254.48" width="1.0" height="4.5" fill="#fcedb0" />
<rect x="211.0" y="254.48" width="1.5" height="4.5" fill="#c08868" />
<rect x="220.0" y="254.48" width="1.0" height="4.5" fill="#fcedb0" />
<rect x="236.0" y="254.48" width="1.4" height="4.5" fill="#f8d840" />
<rect x="237.8" y="254.48" width="1.7" height="4.5" fill="#8f97d0" />
<rect x="246.7" y="254.48" width="1.9" height="4.5" fill="#f5b860" />
<rect x="253.5" y="254.48" width="1.0" height="4.5" fill="#fcedb0" />
<rect x="256.5" y="254.48" width="1.0" height="4.5" fill="#fcedb0" />
<rect x="258.8" y="254.48" width="1.2" height="4.5" fill="#eea048" />
<rect x="268.1" y="254.48" width="1.6" height="4.5" fill="#eea048" />
<rect x="273.5" y="254.48" width="1.0" height="4.5" fill="#f8d840" />
<rect x="274.5" y="254.48" width="1.0" height="4.5" fill="#c4c440" />
<rect x="278.0" y="254.48" width="1.0" height="4.5" fill="#f8d840" />
<rect x="286.5" y="254.48" width="1.0" height="4.5" fill="#fcedb0" />
<rect x="291.0" y="254.48" width="1.6" height="4.5" fill="#f8d840" />
<rect x="313.4" y="254.48" width="1.2" height="4.5" fill="#f8d840" />
<rect x="316.0" y="254.48" width="1.5" height="4.5" fill="#f8d840" />
<rect x="362.0" y="254.48" width="1.0" height="4.5" fill="#eea048" />
<rect x="363.0" y="254.48" width="3.0" height="4.5" fill="#f8d840" />
<rect x="366.0" y="254.48" width="4.6" height="4.5" fill="#2a9a3a" />
<rect x="370.6" y="254.48" width="4.2" height="4.5" fill="#f5b860" />
<rect x="374.8" y="254.48" width="11.4" height="4.5" fill="#2a9a3a" />
<rect x="386.5" y="254.48" width="1.0" height="4.5" fill="#8f97d0" />
<rect x="393.0" y="254.48" width="1.5" height="4.5" fill="#f8d840" />
<rect x="416.4" y="254.48" width="3.2" height="4.5" fill="#f5b860" />
<rect x="421.0" y="254.48" width="1.5" height="4.5" fill="#f8d840" />
<rect x="423.0" y="254.48" width="1.0" height="4.5" fill="#fcedb0" />
<rect x="433.3" y="254.48" width="1.3" height="4.5" fill="#f8d840" />
<rect x="439.8" y="254.48" width="1.2" height="4.5" fill="#f8d840" />
<rect x="445.0" y="254.48" width="1.0" height="4.5" fill="#fcedb0" />
<rect x="464.4" y="254.48" width="1.6" height="4.5" fill="#555555" />
<rect x="480.0" y="254.48" width="1.0" height="4.5" fill="#fcedb0" />
<rect x="498.0" y="254.48" width="1.0" height="4.5" fill="#b0b0b0" />
<rect x="508.0" y="254.48" width="1.0" height="4.5" fill="#fcedb0" />
<rect x="100.5" y="260.76" width="1.5" height="4.5" fill="#f5b860" />
<rect x="107.0" y="260.76" width="1.0" height="4.5" fill="#fcedb0" />
<rect x="110.2" y="260.76" width="1.0" height="4.5" fill="#f9e690" />
<rect x="116.7" y="260.76" width="1.3" height="4.5" fill="#f5b860" />
<rect x="118.0" y="260.76" width="1.5" height="4.5" fill="#eea048" />
<rect x="128.9" y="260.76" width="1.0" height="4.5" fill="#fcedb0" />
<rect x="137.3" y="260.76" width="1.7" height="4.5" fill="#eea048" />
<rect x="158.0" y="260.76" width="1.0" height="4.5" fill="#fcedb0" />
<rect x="167.0" y="260.76" width="2.0" height="4.5" fill="#f8d840" />
<rect x="171.0" y="260.76" width="2.0" height="4.5" fill="#b06050" />
<rect x="174.0" y="260.76" width="4.0" height="4.5" fill="#8f97d0" />
<rect x="176.0" y="260.76" width="1.0" height="4.5" fill="#f8d840" />
<rect x="183.0" y="260.76" width="1.0" height="4.5" fill="#f8d840" />
<rect x="198.0" y="260.76" width="1.0" height="4.5" fill="#f8d840" />
<rect x="211.0" y="260.76" width="1.5" height="4.5" fill="#c08868" />
<rect x="220.0" y="260.76" width="1.0" height="4.5" fill="#fcedb0" />
<rect x="236.0" y="260.76" width="1.0" height="4.5" fill="#fcedb0" />
<rect x="237.5" y="260.76" width="1.5" height="4.5" fill="#8f97d0" />
<rect x="247.0" y="260.76" width="1.5" height="4.5" fill="#eea048" />
<rect x="253.5" y="260.76" width="1.0" height="4.5" fill="#fcedb0" />
<rect x="256.5" y="260.76" width="1.0" height="4.5" fill="#fcedb0" />
<rect x="259.0" y="260.76" width="1.0" height="4.5" fill="#eea048" />
<rect x="268.1" y="260.76" width="0.9" height="4.5" fill="#e05a30" />
<rect x="269.0" y="260.76" width="1.5" height="4.5" fill="#5aaa40" />
<rect x="273.5" y="260.76" width="2.0" height="4.5" fill="#f5b860" />
<rect x="275.9" y="260.76" width="1.9" height="4.5" fill="#2a9a3a" />
<rect x="277.8" y="260.76" width="3.8" height="4.5" fill="#f8d840" />
<rect x="286.5" y="260.76" width="1.0" height="4.5" fill="#fcedb0" />
<rect x="291.0" y="260.76" width="1.5" height="4.5" fill="#eea048" />
<rect x="304.0" y="260.76" width="1.0" height="4.5" fill="#fcedb0" />
<rect x="307.5" y="260.76" width="1.0" height="4.5" fill="#fcedb0" />
<rect x="313.0" y="260.76" width="1.0" height="4.5" fill="#f9e690" />
<rect x="316.5" y="260.76" width="1.0" height="4.5" fill="#8a8a8a" />
<rect x="361.8" y="260.76" width="3.1" height="4.5" fill="#e05a30" />
<rect x="364.9" y="260.76" width="1.1" height="4.5" fill="#f8d840" />
<rect x="366.0" y="260.76" width="4.5" height="4.5" fill="#2a9a3a" />
<rect x="370.5" y="260.76" width="4.5" height="4.5" fill="#f5b860" />
<rect x="386.0" y="260.76" width="1.5" height="4.5" fill="#8f97d0" />
<rect x="393.0" y="260.76" width="1.0" height="4.5" fill="#fcedb0" />
<rect x="400.8" y="260.76" width="1.5" height="4.5" fill="#f8d840" />
<rect x="411.5" y="260.76" width="1.0" height="4.5" fill="#8f97d0" />
<rect x="413.8" y="260.76" width="2.2" height="4.5" fill="#2a9a3a" />
<rect x="416.0" y="260.76" width="2.0" height="4.5" fill="#f5b860" />
<rect x="418.0" y="260.76" width="1.6" height="4.5" fill="#eea048" />
<rect x="419.6" y="260.76" width="1.8" height="4.5" fill="#e05a30" />
<rect x="421.4" y="260.76" width="2.3" height="4.5" fill="#c4c440" />
<rect x="423.7" y="260.76" width="2.1" height="4.5" fill="#eea048" />
<rect x="425.8" y="260.76" width="2.2" height="4.5" fill="#2a9a3a" />
<rect x="428.0" y="260.76" width="1.1" height="4.5" fill="#f8d840" />
<rect x="429.1" y="260.76" width="0.9" height="4.5" fill="#2a9a3a" />
<rect x="430.0" y="260.76" width="4.6" height="4.5" fill="#f8d840" />
<rect x="435.0" y="260.76" width="1.0" height="4.5" fill="#fcedb0" />
<rect x="439.3" y="260.76" width="1.6" height="4.5" fill="#f8d840" />
<rect x="445.0" y="260.76" width="1.0" height="4.5" fill="#fcedb0" />
<rect x="466.0" y="260.76" width="1.0" height="4.5" fill="#fcedb0" />
<rect x="479.4" y="260.76" width="2.8" height="4.5" fill="#f8d840" />
<rect x="498.5" y="260.76" width="1.0" height="4.5" fill="#f8d840" />
<rect x="510.0" y="260.76" width="1.7" height="4.5" fill="#f8d840" />
<rect x="100.5" y="267.04" width="2.5" height="4.5" fill="#f5b860" />
<rect x="106.7" y="267.04" width="1.8" height="4.5" fill="#f8d840" />
<rect x="110.5" y="267.04" width="1.5" height="4.5" fill="#f8d840" />
<rect x="116.7" y="267.04" width="1.3" height="4.5" fill="#f8d840" />
<rect x="118.0" y="267.04" width="1.5" height="4.5" fill="#eea048" />
<rect x="128.9" y="267.04" width="1.0" height="4.5" fill="#fcedb0" />
<rect x="137.3" y="267.04" width="1.7" height="4.5" fill="#eea048" />
<rect x="146.5" y="267.04" width="1.5" height="4.5" fill="#f8d840" />
<rect x="153.0" y="267.04" width="1.0" height="4.5" fill="#fcedb0" />
<rect x="157.0" y="267.04" width="1.5" height="4.5" fill="#5aaa40" />
<rect x="158.5" y="267.04" width="3.0" height="4.5" fill="#f8d840" />
<rect x="166.5" y="267.04" width="4.0" height="4.5" fill="#f8d840" />
<rect x="171.0" y="267.04" width="2.0" height="4.5" fill="#b06050" />
<rect x="173.0" y="267.04" width="5.0" height="4.5" fill="#8f97d0" />
<rect x="183.0" y="267.04" width="1.0" height="4.5" fill="#f8d840" />
<rect x="193.0" y="267.04" width="1.0" height="4.5" fill="#f9e690" />
<rect x="198.0" y="267.04" width="1.0" height="4.5" fill="#f8d840" />
<rect x="211.0" y="267.04" width="1.5" height="4.5" fill="#7a5a9a" />
<rect x="237.5" y="267.04" width="1.5" height="4.5" fill="#8f97d0" />
<rect x="245.5" y="267.04" width="1.0" height="4.5" fill="#2a9a3a" />
<rect x="246.5" y="267.04" width="2.0" height="4.5" fill="#f5b860" />
<rect x="253.5" y="267.04" width="1.0" height="4.5" fill="#fcedb0" />
<rect x="256.5" y="267.04" width="1.0" height="4.5" fill="#f8d840" />
<rect x="259.0" y="267.04" width="1.0" height="4.5" fill="#f8d840" />
<rect x="268.0" y="267.04" width="1.5" height="4.5" fill="#857585" />
<rect x="269.5" y="267.04" width="0.8" height="4.5" fill="#e9b9b9" />
<rect x="273.0" y="267.04" width="1.0" height="4.5" fill="#fcedb0" />
<rect x="274.5" y="267.04" width="1.0" height="4.5" fill="#fcedb0" />
<rect x="284.2" y="267.04" width="1.0" height="4.5" fill="#fcedb0" />
<rect x="286.5" y="267.04" width="1.0" height="4.5" fill="#fcedb0" />
<rect x="290.0" y="267.04" width="1.0" height="4.5" fill="#fcedb0" />
<rect x="293.0" y="267.04" width="1.0" height="4.5" fill="#f8d840" />
<rect x="296.2" y="267.04" width="1.5" height="4.5" fill="#f8d840" />
<rect x="299.5" y="267.04" width="1.0" height="4.5" fill="#fcedb0" />
<rect x="304.5" y="267.04" width="1.5" height="4.5" fill="#f8d840" />
<rect x="306.0" y="267.04" width="2.0" height="4.5" fill="#5aaa40" />
<rect x="308.0" y="267.04" width="1.0" height="4.5" fill="#f8d840" />
<rect x="310.8" y="267.04" width="1.0" height="4.5" fill="#8a8a8a" />
<rect x="313.0" y="267.04" width="1.0" height="4.5" fill="#f8d840" />
<rect x="315.5" y="267.04" width="4.0" height="4.5" fill="#857585" />
<rect x="321.5" y="267.04" width="1.0" height="4.5" fill="#f9e690" />
<rect x="332.0" y="267.04" width="1.2" height="4.5" fill="#f8d840" />
<rect x="344.0" y="267.04" width="1.6" height="4.5" fill="#f8d840" />
<rect x="345.6" y="267.04" width="1.4" height="4.5" fill="#e9b9b9" />
<rect x="362.0" y="267.04" width="1.0" height="4.5" fill="#e05a30" />
<rect x="363.0" y="267.04" width="1.0" height="4.5" fill="#f8d840" />
<rect x="364.5" y="267.04" width="6.0" height="4.5" fill="#2a9a3a" />
<rect x="370.5" y="267.04" width="1.0" height="4.5" fill="#f9e690" />
<rect x="371.8" y="267.04" width="8.7" height="4.5" fill="#2a9a3a" />
<rect x="386.5" y="267.04" width="1.0" height="4.5" fill="#8f97d0" />
<rect x="393.0" y="267.04" width="1.0" height="4.5" fill="#fcedb0" />
<rect x="411.4" y="267.04" width="1.6" height="4.5" fill="#8f97d0" />
<rect x="416.0" y="267.04" width="2.5" height="4.5" fill="#f5b860" />
<rect x="418.5" y="267.04" width="6.0" height="4.5" fill="#f8d840" />
<rect x="427.5" y="267.04" width="1.0" height="4.5" fill="#fcedb0" />
<rect x="433.5" y="267.04" width="1.0" height="4.5" fill="#f8d840" />
<rect x="436.0" y="267.04" width="1.0" height="4.5" fill="#fcedb0" />
<rect x="440.0" y="267.04" width="1.0" height="4.5" fill="#f8d840" />
<rect x="445.5" y="267.04" width="1.0" height="4.5" fill="#fcedb0" />
<rect x="449.0" y="267.04" width="1.0" height="4.5" fill="#f9e690" />
<rect x="463.5" y="267.04" width="1.0" height="4.5" fill="#7080c0" />
<rect x="466.0" y="267.04" width="1.0" height="4.5" fill="#fcedb0" />
<rect x="467.9" y="267.04" width="1.0" height="4.5" fill="#8a8a8a" />
<rect x="478.0" y="267.04" width="1.4" height="4.5" fill="#555555" />
<rect x="479.4" y="267.04" width="2.1" height="4.5" fill="#f8d840" />
<rect x="498.5" y="267.04" width="1.0" height="4.5" fill="#eea048" />
<rect x="503.0" y="267.04" width="1.0" height="4.5" fill="#fcedb0" />
<rect x="508.0" y="267.04" width="1.0" height="4.5" fill="#fcedb0" />
<rect x="100.5" y="273.32" width="2.5" height="4.5" fill="#eea048" />
<rect x="110.7" y="273.32" width="1.3" height="4.5" fill="#f8d840" />
<rect x="116.7" y="273.32" width="1.3" height="4.5" fill="#eea048" />
<rect x="118.0" y="273.32" width="1.5" height="4.5" fill="#f8d840" />
<rect x="128.9" y="273.32" width="1.0" height="4.5" fill="#fcedb0" />
<rect x="137.5" y="273.32" width="1.0" height="4.5" fill="#f8d840" />
<rect x="147.5" y="273.32" width="1.0" height="4.5" fill="#2a9a3a" />
<rect x="158.5" y="273.32" width="3.0" height="4.5" fill="#f8d840" />
<rect x="167.5" y="273.32" width="1.5" height="4.5" fill="#f8d840" />
<rect x="171.0" y="273.32" width="2.0" height="4.5" fill="#a06a80" />
<rect x="173.5" y="273.32" width="4.5" height="4.5" fill="#8f97d0" />
<rect x="183.0" y="273.32" width="1.0" height="4.5" fill="#f8d840" />
<rect x="198.0" y="273.32" width="1.0" height="4.5" fill="#f8d840" />
<rect x="211.0" y="273.32" width="1.5" height="4.5" fill="#7a5a9a" />
<rect x="236.0" y="273.32" width="1.0" height="4.5" fill="#fcedb0" />
<rect x="237.5" y="273.32" width="1.5" height="4.5" fill="#8f97d0" />
<rect x="245.5" y="273.32" width="1.0" height="4.5" fill="#2a9a3a" />
<rect x="246.5" y="273.32" width="2.0" height="4.5" fill="#eea048" />
<rect x="253.5" y="273.32" width="1.0" height="4.5" fill="#fcedb0" />
<rect x="256.5" y="273.32" width="1.0" height="4.5" fill="#f8d840" />
<rect x="259.0" y="273.32" width="1.0" height="4.5" fill="#f8d840" />
<rect x="268.0" y="273.32" width="1.5" height="4.5" fill="#857585" />
<rect x="270.5" y="273.32" width="1.0" height="4.5" fill="#fcedb0" />
<rect x="274.9" y="273.32" width="1.0" height="4.5" fill="#f8d840" />
<rect x="278.5" y="273.32" width="1.0" height="4.5" fill="#f8d840" />
<rect x="290.5" y="273.32" width="1.0" height="4.5" fill="#f8d840" />
<rect x="292.5" y="273.32" width="1.0" height="4.5" fill="#fcedb0" />
<rect x="296.2" y="273.32" width="1.5" height="4.5" fill="#f8d840" />
<rect x="299.3" y="273.32" width="3.7" height="4.5" fill="#8a8a8a" />
<rect x="304.5" y="273.32" width="1.0" height="4.5" fill="#f8d840" />
<rect x="306.0" y="273.32" width="1.0" height="4.5" fill="#8a8a8a" />
<rect x="308.0" y="273.32" width="1.0" height="4.5" fill="#f8d840" />
<rect x="310.3" y="273.32" width="3.0" height="4.5" fill="#8a8a8a" />
<rect x="313.0" y="273.32" width="1.0" height="4.5" fill="#f8d840" />
<rect x="315.5" y="273.32" width="4.0" height="4.5" fill="#8a8a8a" />
<rect x="321.5" y="273.32" width="1.0" height="4.5" fill="#f8d840" />
<rect x="326.5" y="273.32" width="1.0" height="4.5" fill="#fcedb0" />
<rect x="332.0" y="273.32" width="1.0" height="4.5" fill="#f8d840" />
<rect x="344.0" y="273.32" width="1.0" height="4.5" fill="#e9b9b9" />
<rect x="362.0" y="273.32" width="1.0" height="4.5" fill="#e05a30" />
<rect x="363.0" y="273.32" width="1.0" height="4.5" fill="#eea048" />
<rect x="364.5" y="273.32" width="6.0" height="4.5" fill="#2a9a3a" />
<rect x="371.5" y="273.32" width="2.2" height="4.5" fill="#f8d840" />
<rect x="386.5" y="273.32" width="1.0" height="4.5" fill="#8f97d0" />
<rect x="393.0" y="273.32" width="1.0" height="4.5" fill="#fcedb0" />
<rect x="411.5" y="273.32" width="1.0" height="4.5" fill="#8f97d0" />
<rect x="416.0" y="273.32" width="2.5" height="4.5" fill="#f5b860" />
<rect x="418.5" y="273.32" width="4.5" height="4.5" fill="#f8d840" />
<rect x="423.0" y="273.32" width="2.0" height="4.5" fill="#eea048" />
<rect x="426.5" y="273.32" width="1.0" height="4.5" fill="#fcedb0" />
<rect x="429.5" y="273.32" width="1.0" height="4.5" fill="#fcedb0" />
<rect x="433.5" y="273.32" width="1.0" height="4.5" fill="#eea048" />
<rect x="440.0" y="273.32" width="1.0" height="4.5" fill="#f9e690" />
<rect x="445.7" y="273.32" width="2.4" height="4.5" fill="#2a9a3a" />
<rect x="464.0" y="273.32" width="1.0" height="4.5" fill="#8f97d0" />
<rect x="466.0" y="273.32" width="1.0" height="4.5" fill="#fcedb0" />
<rect x="467.9" y="273.32" width="1.0" height="4.5" fill="#8a8a8a" />
<rect x="478.0" y="273.32" width="1.4" height="4.5" fill="#555555" />
<rect x="479.4" y="273.32" width="2.1" height="4.5" fill="#f8d840" />
<rect x="498.5" y="273.32" width="1.0" height="4.5" fill="#f5b860" />
<rect x="100.5" y="279.6" width="2.5" height="4.5" fill="#e05a30" />
<rect x="107.0" y="279.6" width="1.0" height="4.5" fill="#fcedb0" />
<rect x="110.7" y="279.6" width="1.3" height="4.5" fill="#f9e690" />
<rect x="116.7" y="279.6" width="2.3" height="4.5" fill="#eea048" />
<rect x="128.9" y="279.6" width="1.0" height="4.5" fill="#fcedb0" />
<rect x="137.3" y="279.6" width="1.7" height="4.5" fill="#eea048" />
<rect x="147.5" y="279.6" width="1.0" height="4.5" fill="#c4c440" />
<rect x="158.5" y="279.6" width="3.0" height="4.5" fill="#f5b860" />
<rect x="167.5" y="279.6" width="1.5" height="4.5" fill="#f5b860" />
<rect x="171.0" y="279.6" width="2.0" height="4.5" fill="#b06050" />
<rect x="173.5" y="279.6" width="4.5" height="4.5" fill="#8f97d0" />
<rect x="181.0" y="279.6" width="2.0" height="4.5" fill="#2a9a3a" />
<rect x="183.0" y="279.6" width="1.0" height="4.5" fill="#f9e690" />
<rect x="198.5" y="279.6" width="1.0" height="4.5" fill="#eea048" />
<rect x="199.5" y="279.6" width="3.0" height="4.5" fill="#2a9a3a" />
<rect x="211.0" y="279.6" width="1.5" height="4.5" fill="#a06a80" />
<rect x="236.0" y="279.6" width="1.0" height="4.5" fill="#fcedb0" />
<rect x="237.5" y="279.6" width="1.0" height="4.5" fill="#8f97d0" />
<rect x="245.5" y="279.6" width="3.0" height="4.5" fill="#eea048" />
<rect x="253.5" y="279.6" width="1.0" height="4.5" fill="#fcedb0" />
<rect x="257.0" y="279.6" width="1.0" height="4.5" fill="#2a9a3a" />
<rect x="258.0" y="279.6" width="2.0" height="4.5" fill="#eea048" />
<rect x="267.5" y="279.6" width="3.0" height="4.5" fill="#8a8a8a" />
<rect x="273.5" y="279.6" width="1.0" height="4.5" fill="#c4c440" />
<rect x="278.0" y="279.6" width="1.5" height="4.5" fill="#f8d840" />
<rect x="283.7" y="279.6" width="1.4" height="4.5" fill="#b0b0b0" />
<rect x="287.0" y="279.6" width="1.0" height="4.5" fill="#fcedb0" />
<rect x="291.0" y="279.6" width="1.0" height="4.5" fill="#f8d840" />
<rect x="294.1" y="279.6" width="1.6" height="4.5" fill="#8a8a8a" />
<rect x="296.0" y="279.6" width="2.5" height="4.5" fill="#eea048" />
<rect x="299.5" y="279.6" width="3.5" height="4.5" fill="#8a8a8a" />
<rect x="304.0" y="279.6" width="1.0" height="4.5" fill="#eea048" />
<rect x="305.6" y="279.6" width="1.0" height="4.5" fill="#7a5a9a" />
<rect x="307.7" y="279.6" width="1.0" height="4.5" fill="#eea048" />
<rect x="309.0" y="279.6" width="10.6" height="4.5" fill="#8a8a8a" />
<rect x="321.0" y="279.6" width="1.0" height="4.5" fill="#fcedb0" />
<rect x="332.0" y="279.6" width="1.0" height="4.5" fill="#fcedb0" />
<rect x="344.0" y="279.6" width="1.0" height="4.5" fill="#e9b9b9" />
<rect x="362.0" y="279.6" width="1.0" height="4.5" fill="#e9b9b9" />
<rect x="364.0" y="279.6" width="6.5" height="4.5" fill="#2a9a3a" />
<rect x="371.0" y="279.6" width="2.0" height="4.5" fill="#f8d840" />
<rect x="386.5" y="279.6" width="1.0" height="4.5" fill="#8f97d0" />
<rect x="401.0" y="279.6" width="1.0" height="4.5" fill="#fcedb0" />
<rect x="411.5" y="279.6" width="1.0" height="4.5" fill="#8f97d0" />
<rect x="416.0" y="279.6" width="2.5" height="4.5" fill="#f5b860" />
<rect x="418.5" y="279.6" width="2.0" height="4.5" fill="#e9b9b9" />
<rect x="420.5" y="279.6" width="4.0" height="4.5" fill="#f5b860" />
<rect x="430.5" y="279.6" width="1.0" height="4.5" fill="#c4c440" />
<rect x="431.5" y="279.6" width="1.5" height="4.5" fill="#2a9a3a" />
<rect x="433.5" y="279.6" width="1.0" height="4.5" fill="#f8d840" />
<rect x="436.0" y="279.6" width="1.0" height="4.5" fill="#fcedb0" />
<rect x="440.0" y="279.6" width="1.0" height="4.5" fill="#f9e690" />
<rect x="440.1" y="279.6" width="9.1" height="4.5" fill="#2a9a3a" />
<rect x="466.0" y="279.6" width="1.0" height="4.5" fill="#fcedb0" />
<rect x="480.0" y="279.6" width="1.5" height="4.5" fill="#f8d840" />
<rect x="494.5" y="279.6" width="1.0" height="4.5" fill="#fcedb0" />
<rect x="498.0" y="279.6" width="1.0" height="4.5" fill="#eea048" />
<rect x="499.0" y="279.6" width="1.0" height="4.5" fill="#5aaa40" />
<rect x="510.5" y="279.6" width="1.0" height="4.5" fill="#f8d840" />
<rect x="100.5" y="285.88" width="2.0" height="4.5" fill="#f8d840" />
<rect x="107.0" y="285.88" width="1.0" height="4.5" fill="#f8d840" />
<rect x="116.7" y="285.88" width="2.3" height="4.5" fill="#eea048" />
<rect x="128.9" y="285.88" width="1.0" height="4.5" fill="#fcedb0" />
<rect x="137.5" y="285.88" width="1.0" height="4.5" fill="#f8d840" />
<rect x="146.5" y="285.88" width="1.0" height="4.5" fill="#fcedb0" />
<rect x="153.0" y="285.88" width="1.0" height="4.5" fill="#fcedb0" />
<rect x="158.0" y="285.88" width="1.0" height="4.5" fill="#fcedb0" />
<rect x="167.5" y="285.88" width="1.5" height="4.5" fill="#f8d840" />
<rect x="171.0" y="285.88" width="2.0" height="4.5" fill="#a06a80" />
<rect x="173.5" y="285.88" width="4.5" height="4.5" fill="#8f97d0" />
<rect x="183.0" y="285.88" width="1.0" height="4.5" fill="#fcedb0" />
<rect x="198.0" y="285.88" width="1.0" height="4.5" fill="#fcedb0" />
<rect x="206.5" y="285.88" width="1.0" height="4.5" fill="#fcedb0" />
<rect x="208.5" y="285.88" width="1.0" height="4.5" fill="#f8d840" />
<rect x="211.0" y="285.88" width="1.5" height="4.5" fill="#c08868" />
<rect x="220.0" y="285.88" width="1.0" height="4.5" fill="#fcedb0" />
<rect x="236.0" y="285.88" width="1.0" height="4.5" fill="#fcedb0" />
<rect x="237.5" y="285.88" width="1.0" height="4.5" fill="#8f97d0" />
<rect x="247.0" y="285.88" width="1.5" height="4.5" fill="#eea048" />
<rect x="253.5" y="285.88" width="1.0" height="4.5" fill="#fcedb0" />
<rect x="256.5" y="285.88" width="1.0" height="4.5" fill="#fcedb0" />
<rect x="259.0" y="285.88" width="1.0" height="4.5" fill="#eea048" />
<rect x="268.1" y="285.88" width="1.3" height="4.5" fill="#e05a30" />
<rect x="269.4" y="285.88" width="1.3" height="4.5" fill="#f8d840" />
<rect x="273.3" y="285.88" width="3.7" height="4.5" fill="#f8d840" />
<rect x="278.5" y="285.88" width="1.0" height="4.5" fill="#f8d840" />
<rect x="286.5" y="285.88" width="1.0" height="4.5" fill="#fcedb0" />
<rect x="290.0" y="285.88" width="1.0" height="4.5" fill="#fcedb0" />
<rect x="304.0" y="285.88" width="1.0" height="4.5" fill="#fcedb0" />
<rect x="313.5" y="285.88" width="1.0" height="4.5" fill="#f8d840" />
<rect x="316.0" y="285.88" width="1.5" height="4.5" fill="#f8d840" />
<rect x="362.0" y="285.88" width="1.0" height="4.5" fill="#e05a30" />
<rect x="363.0" y="285.88" width="3.0" height="4.5" fill="#f8d840" />
<rect x="366.0" y="285.88" width="5.0" height="4.5" fill="#2a9a3a" />
<rect x="371.0" y="285.88" width="4.0" height="4.5" fill="#f5b860" />
<rect x="386.5" y="285.88" width="1.0" height="4.5" fill="#8f97d0" />
<rect x="393.0" y="285.88" width="1.5" height="4.5" fill="#f8d840" />
<rect x="416.0" y="285.88" width="2.5" height="4.5" fill="#f5b860" />
<rect x="418.5" y="285.88" width="2.5" height="4.5" fill="#f8d840" />
<rect x="421.6" y="285.88" width="2.6" height="4.5" fill="#2a9a3a" />
<rect x="429.1" y="285.88" width="1.1" height="4.5" fill="#5aaa40" />
<rect x="433.5" y="285.88" width="1.0" height="4.5" fill="#f8d840" />
<rect x="440.0" y="285.88" width="1.0" height="4.5" fill="#f9e690" />
<rect x="466.0" y="285.88" width="1.0" height="4.5" fill="#fcedb0" />
<rect x="480.0" y="285.88" width="1.0" height="4.5" fill="#fcedb0" />
<rect x="498.5" y="285.88" width="1.0" height="4.5" fill="#f8d840" />
<rect x="502.5" y="285.88" width="1.0" height="4.5" fill="#fcedb0" />
<rect x="508.0" y="285.88" width="1.0" height="4.5" fill="#fcedb0" />
<rect x="101.0" y="292.16" width="1.0" height="4.5" fill="#e9b9b9" />
<rect x="107.0" y="292.16" width="1.0" height="4.5" fill="#fcedb0" />
<rect x="110.2" y="292.16" width="1.0" height="4.5" fill="#fcedb0" />
<rect x="116.7" y="292.16" width="2.3" height="4.5" fill="#eea048" />
<rect x="128.9" y="292.16" width="1.0" height="4.5" fill="#fcedb0" />
<rect x="137.3" y="292.16" width="1.7" height="4.5" fill="#e8906a" />
<rect x="167.5" y="292.16" width="1.5" height="4.5" fill="#f8d840" />
<rect x="171.0" y="292.16" width="2.0" height="4.5" fill="#b06050" />
<rect x="174.0" y="292.16" width="4.0" height="4.5" fill="#8f97d0" />
<rect x="183.0" y="292.16" width="1.0" height="4.5" fill="#f8d840" />
<rect x="198.0" y="292.16" width="1.0" height="4.5" fill="#fcedb0" />
<rect x="211.0" y="292.16" width="1.5" height="4.5" fill="#b06050" />
<rect x="220.0" y="292.16" width="1.0" height="4.5" fill="#fcedb0" />
<rect x="236.0" y="292.16" width="1.0" height="4.5" fill="#fcedb0" />
<rect x="237.5" y="292.16" width="1.0" height="4.5" fill="#8f97d0" />
<rect x="247.0" y="292.16" width="1.5" height="4.5" fill="#f5b860" />
<rect x="253.5" y="292.16" width="1.0" height="4.5" fill="#f9e690" />
<rect x="256.5" y="292.16" width="1.0" height="4.5" fill="#fcedb0" />
<rect x="259.0" y="292.16" width="1.0" height="4.5" fill="#b89a38" />
<rect x="268.0" y="292.16" width="1.5" height="4.5" fill="#e05a30" />
<rect x="269.5" y="292.16" width="1.0" height="4.5" fill="#f8d840" />
<rect x="270.5" y="292.16" width="1.5" height="4.5" fill="#2a9a3a" />
<rect x="272.0" y="292.16" width="1.0" height="4.5" fill="#f8d840" />
<rect x="273.5" y="292.16" width="1.5" height="4.5" fill="#f5b860" />
<rect x="275.7" y="292.16" width="2.1" height="4.5" fill="#2a9a3a" />
<rect x="278.0" y="292.16" width="3.0" height="4.5" fill="#f8d840" />
<rect x="286.5" y="292.16" width="1.0" height="4.5" fill="#fcedb0" />
<rect x="290.0" y="292.16" width="1.0" height="4.5" fill="#fcedb0" />
<rect x="291.0" y="292.16" width="1.5" height="4.5" fill="#f8d840" />
<rect x="304.0" y="292.16" width="1.0" height="4.5" fill="#f8d840" />
<rect x="313.5" y="292.16" width="1.0" height="4.5" fill="#f8d840" />
<rect x="361.8" y="292.16" width="2.6" height="4.5" fill="#e05a30" />
<rect x="364.4" y="292.16" width="1.1" height="4.5" fill="#c4c440" />
<rect x="365.5" y="292.16" width="0.5" height="4.5" fill="#f8d840" />
<rect x="366.0" y="292.16" width="4.5" height="4.5" fill="#2a9a3a" />
<rect x="370.5" y="292.16" width="4.5" height="4.5" fill="#f5b860" />
<rect x="386.5" y="292.16" width="1.0" height="4.5" fill="#8f97d0" />
<rect x="393.0" y="292.16" width="1.0" height="4.5" fill="#f9e690" />
<rect x="400.8" y="292.16" width="1.2" height="4.5" fill="#f8d840" />
<rect x="413.8" y="292.16" width="2.4" height="4.5" fill="#2a9a3a" />
<rect x="416.2" y="292.16" width="6.8" height="4.5" fill="#f5b860" />
<rect x="423.0" y="292.16" width="1.8" height="4.5" fill="#f8d840" />
<rect x="424.8" y="292.16" width="1.2" height="4.5" fill="#2a9a3a" />
<rect x="430.2" y="292.16" width="1.6" height="4.5" fill="#f8d840" />
<rect x="431.8" y="292.16" width="1.2" height="4.5" fill="#2a9a3a" />
<rect x="433.0" y="292.16" width="1.0" height="4.5" fill="#f8d840" />
<rect x="440.1" y="292.16" width="8.6" height="4.5" fill="#2a9a3a" />
<rect x="466.0" y="292.16" width="1.0" height="4.5" fill="#fcedb0" />
<rect x="478.9" y="292.16" width="1.1" height="4.5" fill="#5aaa40" />
<rect x="480.0" y="292.16" width="2.0" height="4.5" fill="#f8d840" />
<rect x="498.5" y="292.16" width="1.0" height="4.5" fill="#f8d840" />
<rect x="510.0" y="292.16" width="1.0" height="4.5" fill="#2a9a3a" />
<rect x="511.0" y="292.16" width="1.0" height="4.5" fill="#eea048" />
<rect x="100.5" y="298.44" width="2.5" height="4.5" fill="#f8d840" />
<rect x="101.5" y="298.44" width="1.5" height="4.5" fill="#eea048" />
<rect x="106.7" y="298.44" width="1.8" height="4.5" fill="#f8d840" />
<rect x="110.5" y="298.44" width="1.0" height="4.5" fill="#fcedb0" />
<rect x="116.7" y="298.44" width="2.3" height="4.5" fill="#f5b860" />
<rect x="128.9" y="298.44" width="1.0" height="4.5" fill="#fcedb0" />
<rect x="137.3" y="298.44" width="1.7" height="4.5" fill="#eea048" />
<rect x="146.3" y="298.44" width="2.8" height="4.5" fill="#f8d840" />
<rect x="153.0" y="298.44" width="1.0" height="4.5" fill="#fcedb0" />
<rect x="158.0" y="298.44" width="1.0" height="4.5" fill="#fcedb0" />
<rect x="167.5" y="298.44" width="1.5" height="4.5" fill="#f5b860" />
<rect x="171.0" y="298.44" width="2.0" height="4.5" fill="#b06050" />
<rect x="173.5" y="298.44" width="2.0" height="4.5" fill="#8f97d0" />
<rect x="175.5" y="298.44" width="1.0" height="4.5" fill="#5fb0a0" />
<rect x="176.5" y="298.44" width="1.5" height="4.5" fill="#8f97d0" />
<rect x="183.0" y="298.44" width="1.0" height="4.5" fill="#fcedb0" />
<rect x="198.0" y="298.44" width="1.0" height="4.5" fill="#fcedb0" />
<rect x="209.3" y="298.44" width="1.3" height="4.5" fill="#f8d840" />
<rect x="211.0" y="298.44" width="1.5" height="4.5" fill="#c08868" />
<rect x="220.0" y="298.44" width="1.0" height="4.5" fill="#fcedb0" />
<rect x="236.0" y="298.44" width="1.0" height="4.5" fill="#fcedb0" />
<rect x="237.5" y="298.44" width="1.5" height="4.5" fill="#8f97d0" />
<rect x="247.0" y="298.44" width="1.5" height="4.5" fill="#eea048" />
<rect x="253.5" y="298.44" width="1.0" height="4.5" fill="#fcedb0" />
<rect x="256.5" y="298.44" width="1.0" height="4.5" fill="#fcedb0" />
<rect x="259.0" y="298.44" width="1.0" height="4.5" fill="#f8d840" />
<rect x="268.0" y="298.44" width="1.5" height="4.5" fill="#e05a30" />
<rect x="269.5" y="298.44" width="1.5" height="4.5" fill="#f9e690" />
<rect x="273.5" y="298.44" width="2.5" height="4.5" fill="#eea048" />
<rect x="278.5" y="298.44" width="1.0" height="4.5" fill="#f8d840" />
<rect x="286.5" y="298.44" width="1.0" height="4.5" fill="#fcedb0" />
<rect x="290.0" y="298.44" width="1.0" height="4.5" fill="#fcedb0" />
<rect x="291.0" y="298.44" width="1.5" height="4.5" fill="#eea048" />
<rect x="304.0" y="298.44" width="1.0" height="4.5" fill="#fcedb0" />
<rect x="313.0" y="298.44" width="1.0" height="4.5" fill="#f9e690" />
<rect x="316.0" y="298.44" width="1.2" height="4.5" fill="#b89a38" />
<rect x="362.0" y="298.44" width="1.0" height="4.5" fill="#e05a30" />
<rect x="363.0" y="298.44" width="3.0" height="4.5" fill="#f5b860" />
<rect x="366.0" y="298.44" width="4.5" height="4.5" fill="#2a9a3a" />
<rect x="370.5" y="298.44" width="4.5" height="4.5" fill="#f5b860" />
<rect x="386.0" y="298.44" width="1.8" height="4.5" fill="#5fb0a0" />
<rect x="387.8" y="298.44" width="5.7" height="4.5" fill="#2a9a3a" />
<rect x="393.5" y="298.44" width="1.0" height="4.5" fill="#f5b860" />
<rect x="401.0" y="298.44" width="1.0" height="4.5" fill="#f9e690" />
<rect x="416.2" y="298.44" width="3.4" height="4.5" fill="#f5b860" />
<rect x="419.6" y="298.44" width="1.5" height="4.5" fill="#f8d840" />
<rect x="421.1" y="298.44" width="1.1" height="4.5" fill="#f5b860" />
<rect x="422.2" y="298.44" width="2.0" height="4.5" fill="#2a9a3a" />
<rect x="433.5" y="298.44" width="1.0" height="4.5" fill="#f8d840" />
<rect x="439.5" y="298.44" width="1.0" height="4.5" fill="#f9e690" />
<rect x="445.0" y="298.44" width="1.0" height="4.5" fill="#fcedb0" />
<rect x="464.5" y="298.44" width="1.0" height="4.5" fill="#b0b0b0" />
<rect x="480.0" y="298.44" width="1.0" height="4.5" fill="#fcedb0" />
<rect x="498.5" y="298.44" width="1.0" height="4.5" fill="#f8d840" />
<rect x="508.0" y="298.44" width="1.0" height="4.5" fill="#fcedb0" />
<rect x="510.5" y="298.44" width="1.0" height="4.5" fill="#fcedb0" />
<rect x="100.5" y="304.72" width="2.0" height="4.5" fill="#f8d840" />
<rect x="110.5" y="304.72" width="1.0" height="4.5" fill="#fcedb0" />
<rect x="116.7" y="304.72" width="2.3" height="4.5" fill="#eea048" />
<rect x="128.9" y="304.72" width="1.0" height="4.5" fill="#fcedb0" />
<rect x="137.3" y="304.72" width="1.7" height="4.5" fill="#e8906a" />
<rect x="139.5" y="304.72" width="1.0" height="4.5" fill="#f9e690" />
<rect x="143.0" y="304.72" width="1.0" height="4.5" fill="#e9b9b9" />
<rect x="146.5" y="304.72" width="1.0" height="4.5" fill="#fcedb0" />
<rect x="158.0" y="304.72" width="1.0" height="4.5" fill="#fcedb0" />
<rect x="167.0" y="304.72" width="2.0" height="4.5" fill="#f8d840" />
<rect x="171.0" y="304.72" width="2.0" height="4.5" fill="#b06050" />
<rect x="173.5" y="304.72" width="1.5" height="4.5" fill="#5fb0a0" />
<rect x="175.0" y="304.72" width="3.0" height="4.5" fill="#8f97d0" />
<rect x="183.0" y="304.72" width="1.0" height="4.5" fill="#fcedb0" />
<rect x="198.0" y="304.72" width="1.0" height="4.5" fill="#2a9a3a" />
<rect x="209.0" y="304.72" width="1.0" height="4.5" fill="#f9e690" />
<rect x="211.0" y="304.72" width="1.5" height="4.5" fill="#c08868" />
<rect x="220.0" y="304.72" width="1.0" height="4.5" fill="#fcedb0" />
<rect x="236.0" y="304.72" width="1.5" height="4.5" fill="#f8d840" />
<rect x="237.5" y="304.72" width="1.5" height="4.5" fill="#8f97d0" />
<rect x="247.0" y="304.72" width="1.5" height="4.5" fill="#eea048" />
<rect x="253.5" y="304.72" width="1.0" height="4.5" fill="#fcedb0" />
<rect x="259.0" y="304.72" width="1.0" height="4.5" fill="#f8d840" />
<rect x="268.0" y="304.72" width="2.0" height="4.5" fill="#e8906a" />
<rect x="270.0" y="304.72" width="1.0" height="4.5" fill="#f9e690" />
<rect x="273.5" y="304.72" width="1.5" height="4.5" fill="#f8d840" />
<rect x="275.0" y="304.72" width="1.0" height="4.5" fill="#a8d8c8" />
<rect x="278.0" y="304.72" width="1.0" height="4.5" fill="#f8d840" />
<rect x="286.5" y="304.72" width="1.0" height="4.5" fill="#fcedb0" />
<rect x="291.0" y="304.72" width="1.5" height="4.5" fill="#f8d840" />
<rect x="304.0" y="304.72" width="1.0" height="4.5" fill="#fcedb0" />
<rect x="313.5" y="304.72" width="1.0" height="4.5" fill="#f9e690" />
<rect x="316.0" y="304.72" width="1.0" height="4.5" fill="#f9e690" />
<rect x="362.0" y="304.72" width="1.0" height="4.5" fill="#e05a30" />
<rect x="363.0" y="304.72" width="3.5" height="4.5" fill="#f8d840" />
<rect x="366.5" y="304.72" width="4.0" height="4.5" fill="#2a9a3a" />
<rect x="370.5" y="304.72" width="4.5" height="4.5" fill="#f5b860" />
<rect x="386.0" y="304.72" width="1.8" height="4.5" fill="#5fb0a0" />
<rect x="387.8" y="304.72" width="5.4" height="4.5" fill="#2a9a3a" />
<rect x="393.2" y="304.72" width="1.3" height="4.5" fill="#f8d840" />
<rect x="416.2" y="304.72" width="2.8" height="4.5" fill="#f5b860" />
<rect x="419.0" y="304.72" width="1.8" height="4.5" fill="#f9e690" />
<rect x="420.8" y="304.72" width="1.4" height="4.5" fill="#f8d840" />
<rect x="422.2" y="304.72" width="1.8" height="4.5" fill="#2a9a3a" />
<rect x="429.5" y="304.72" width="1.0" height="4.5" fill="#fcedb0" />
<rect x="433.5" y="304.72" width="1.0" height="4.5" fill="#f8d840" />
<rect x="439.5" y="304.72" width="1.0" height="4.5" fill="#f9e690" />
<rect x="445.0" y="304.72" width="1.0" height="4.5" fill="#fcedb0" />
<rect x="464.0" y="304.72" width="2.0" height="4.5" fill="#555555" />
<rect x="480.0" y="304.72" width="1.0" height="4.5" fill="#fcedb0" />
<rect x="498.0" y="304.72" width="1.0" height="4.5" fill="#b0b0b0" />
<rect x="508.0" y="304.72" width="1.0" height="4.5" fill="#fcedb0" />
<rect x="100.5" y="311.0" width="2.5" height="4.5" fill="#e05a30" />
<rect x="106.7" y="311.0" width="1.8" height="4.5" fill="#f5b860" />
<rect x="110.2" y="311.0" width="1.0" height="4.5" fill="#f5b860" />
<rect x="116.0" y="311.0" width="2.0" height="4.5" fill="#f8d840" />
<rect x="118.0" y="311.0" width="1.5" height="4.5" fill="#eea048" />
<rect x="128.9" y="311.0" width="1.0" height="4.5" fill="#fcedb0" />
<rect x="133.5" y="311.0" width="1.0" height="4.5" fill="#fcedb0" />
<rect x="137.3" y="311.0" width="1.7" height="4.5" fill="#eea048" />
<rect x="146.5" y="311.0" width="1.0" height="4.5" fill="#fcedb0" />
<rect x="153.0" y="311.0" width="1.0" height="4.5" fill="#fcedb0" />
<rect x="157.0" y="311.0" width="1.5" height="4.5" fill="#5aaa40" />
<rect x="158.5" y="311.0" width="1.5" height="4.5" fill="#f8d840" />
<rect x="160.0" y="311.0" width="1.5" height="4.5" fill="#eea048" />
<rect x="166.4" y="311.0" width="4.4" height="4.5" fill="#f8d840" />
<rect x="171.0" y="311.0" width="1.5" height="4.5" fill="#b06050" />
<rect x="173.5" y="311.0" width="4.5" height="4.5" fill="#8f97d0" />
<rect x="183.0" y="311.0" width="1.0" height="4.5" fill="#fcedb0" />
<rect x="193.0" y="311.0" width="1.0" height="4.5" fill="#fcedb0" />
<rect x="198.0" y="311.0" width="1.0" height="4.5" fill="#f8d840" />
<rect x="211.0" y="311.0" width="1.5" height="4.5" fill="#7a5a9a" />
<rect x="236.5" y="311.0" width="1.5" height="4.5" fill="#8f97d0" />
<rect x="245.5" y="311.0" width="1.0" height="4.5" fill="#f8d840" />
<rect x="246.5" y="311.0" width="2.0" height="4.5" fill="#eea048" />
<rect x="253.5" y="311.0" width="1.0" height="4.5" fill="#fcedb0" />
<rect x="256.5" y="311.0" width="1.0" height="4.5" fill="#fcedb0" />
<rect x="259.0" y="311.0" width="1.0" height="4.5" fill="#f8d840" />
<rect x="267.5" y="311.0" width="2.0" height="4.5" fill="#857585" />
<rect x="273.0" y="311.0" width="1.0" height="4.5" fill="#fcedb0" />
<rect x="274.5" y="311.0" width="1.0" height="4.5" fill="#fcedb0" />
<rect x="284.2" y="311.0" width="1.0" height="4.5" fill="#fcedb0" />
<rect x="286.5" y="311.0" width="1.0" height="4.5" fill="#fcedb0" />
<rect x="290.0" y="311.0" width="1.0" height="4.5" fill="#fcedb0" />
<rect x="293.1" y="311.0" width="1.3" height="4.5" fill="#f8d840" />
<rect x="296.5" y="311.0" width="1.0" height="4.5" fill="#f8d840" />
<rect x="299.3" y="311.0" width="1.6" height="4.5" fill="#d8b8d8" />
<rect x="302.0" y="311.0" width="1.0" height="4.5" fill="#b0b0b0" />
<rect x="304.5" y="311.0" width="1.0" height="4.5" fill="#f8d840" />
<rect x="305.5" y="311.0" width="1.0" height="4.5" fill="#7a5a9a" />
<rect x="307.5" y="311.0" width="1.0" height="4.5" fill="#f8d840" />
<rect x="310.5" y="311.0" width="1.0" height="4.5" fill="#8a8a8a" />
<rect x="313.0" y="311.0" width="1.0" height="4.5" fill="#f9e690" />
<rect x="315.5" y="311.0" width="1.0" height="4.5" fill="#7a5a9a" />
<rect x="316.5" y="311.0" width="2.5" height="4.5" fill="#857585" />
<rect x="321.5" y="311.0" width="1.0" height="4.5" fill="#f8d840" />
<rect x="323.8" y="311.0" width="1.0" height="4.5" fill="#f8d840" />
<rect x="332.0" y="311.0" width="1.0" height="4.5" fill="#f8d840" />
<rect x="344.0" y="311.0" width="1.8" height="4.5" fill="#f8d840" />
<rect x="362.0" y="311.0" width="1.0" height="4.5" fill="#eea048" />
<rect x="363.0" y="311.0" width="1.0" height="4.5" fill="#f8d840" />
<rect x="364.0" y="311.0" width="6.5" height="4.5" fill="#2a9a3a" />
<rect x="370.5" y="311.0" width="1.0" height="4.5" fill="#a8d8c8" />
<rect x="386.5" y="311.0" width="1.0" height="4.5" fill="#8f97d0" />
<rect x="393.0" y="311.0" width="1.0" height="4.5" fill="#fcedb0" />
<rect x="399.0" y="311.0" width="1.0" height="4.5" fill="#e9b9b9" />
<rect x="401.0" y="311.0" width="1.0" height="4.5" fill="#e9b9b9" />
<rect x="411.2" y="311.0" width="1.6" height="4.5" fill="#8f97d0" />
<rect x="416.2" y="311.0" width="2.8" height="4.5" fill="#f5b860" />
<rect x="419.0" y="311.0" width="1.5" height="4.5" fill="#f8d840" />
<rect x="420.5" y="311.0" width="1.5" height="4.5" fill="#f5b860" />
<rect x="422.0" y="311.0" width="1.0" height="4.5" fill="#e9b9b9" />
<rect x="432.2" y="311.0" width="1.9" height="4.5" fill="#eea048" />
<rect x="435.0" y="311.0" width="1.0" height="4.5" fill="#f9e690" />
<rect x="440.0" y="311.0" width="1.0" height="4.5" fill="#f8d840" />
<rect x="445.0" y="311.0" width="1.0" height="4.5" fill="#fcedb0" />
<rect x="449.0" y="311.0" width="1.0" height="4.5" fill="#f9e690" />
<rect x="466.0" y="311.0" width="1.0" height="4.5" fill="#fcedb0" />
<rect x="468.0" y="311.0" width="1.0" height="4.5" fill="#8a8a8a" />
<rect x="475.8" y="311.0" width="2.2" height="4.5" fill="#857585" />
<rect x="478.0" y="311.0" width="1.5" height="4.5" fill="#a06a80" />
<rect x="479.5" y="311.0" width="2.5" height="4.5" fill="#f8d840" />
<rect x="498.5" y="311.0" width="1.0" height="4.5" fill="#f5b860" />
<rect x="508.0" y="311.0" width="1.0" height="4.5" fill="#fcedb0" />
<rect x="100.5" y="317.28" width="2.5" height="4.5" fill="#e05a30" />
<rect x="107.0" y="317.28" width="1.0" height="4.5" fill="#fcedb0" />
<rect x="110.5" y="317.28" width="2.0" height="4.5" fill="#f5b860" />
<rect x="116.0" y="317.28" width="2.0" height="4.5" fill="#f8d840" />
<rect x="118.0" y="317.28" width="1.5" height="4.5" fill="#e05a30" />
<rect x="129.1" y="317.28" width="1.0" height="4.5" fill="#f5b860" />
<rect x="137.3" y="317.28" width="1.7" height="4.5" fill="#f5b860" />
<rect x="146.5" y="317.28" width="2.5" height="4.5" fill="#f8d840" />
<rect x="158.0" y="317.28" width="3.5" height="4.5" fill="#f8d840" />
<rect x="166.5" y="317.28" width="1.5" height="4.5" fill="#f5b860" />
<rect x="168.0" y="317.28" width="2.0" height="4.5" fill="#f8d840" />
<rect x="170.5" y="317.28" width="2.0" height="4.5" fill="#e05a30" />
<rect x="172.5" y="317.28" width="1.5" height="4.5" fill="#7a5a9a" />
<rect x="174.0" y="317.28" width="5.0" height="4.5" fill="#5fb0a0" />
<rect x="179.0" y="317.28" width="4.0" height="4.5" fill="#2a9a3a" />
<rect x="183.0" y="317.28" width="1.0" height="4.5" fill="#f5b860" />
<rect x="193.0" y="317.28" width="1.0" height="4.5" fill="#fcedb0" />
<rect x="198.0" y="317.28" width="1.0" height="4.5" fill="#eea048" />
<rect x="206.5" y="317.28" width="1.0" height="4.5" fill="#fcedb0" />
<rect x="211.0" y="317.28" width="1.5" height="4.5" fill="#b06050" />
<rect x="236.0" y="317.28" width="1.0" height="4.5" fill="#fcedb0" />
<rect x="237.5" y="317.28" width="1.0" height="4.5" fill="#8f97d0" />
<rect x="245.5" y="317.28" width="4.0" height="4.5" fill="#f5b860" />
<rect x="253.5" y="317.28" width="1.0" height="4.5" fill="#fcedb0" />
<rect x="257.0" y="317.28" width="1.0" height="4.5" fill="#f8d840" />
<rect x="258.0" y="317.28" width="2.8" height="4.5" fill="#eea048" />
<rect x="267.5" y="317.28" width="1.0" height="4.5" fill="#707898" />
<rect x="268.5" y="317.28" width="1.5" height="4.5" fill="#e05a30" />
<rect x="270.0" y="317.28" width="1.0" height="4.5" fill="#a06a80" />
<rect x="271.5" y="317.28" width="1.0" height="4.5" fill="#e9b9b9" />
<rect x="274.4" y="317.28" width="1.3" height="4.5" fill="#f8d840" />
<rect x="278.0" y="317.28" width="1.9" height="4.5" fill="#f5b860" />
<rect x="282.7" y="317.28" width="1.5" height="4.5" fill="#8a8a8a" />
<rect x="284.2" y="317.28" width="1.0" height="4.5" fill="#f8d840" />
<rect x="285.8" y="317.28" width="1.0" height="4.5" fill="#707898" />
<rect x="287.9" y="317.28" width="2.4" height="4.5" fill="#f8d840" />
<rect x="290.8" y="317.28" width="1.0" height="4.5" fill="#555555" />
<rect x="292.5" y="317.28" width="1.0" height="4.5" fill="#f8d840" />
<rect x="293.6" y="317.28" width="2.1" height="4.5" fill="#707898" />
<rect x="296.2" y="317.28" width="1.5" height="4.5" fill="#f8d840" />
<rect x="298.8" y="317.28" width="5.2" height="4.5" fill="#8a8a8a" />
<rect x="304.0" y="317.28" width="1.0" height="4.5" fill="#eea048" />
<rect x="305.5" y="317.28" width="1.0" height="4.5" fill="#7a5a9a" />
<rect x="307.5" y="317.28" width="1.0" height="4.5" fill="#eea048" />
<rect x="309.0" y="317.28" width="12.5" height="4.5" fill="#8a8a8a" />
<rect x="321.5" y="317.28" width="0.8" height="4.5" fill="#f8d840" />
<rect x="326.1" y="317.28" width="2.7" height="4.5" fill="#eea048" />
<rect x="332.5" y="317.28" width="1.0" height="4.5" fill="#f8d840" />
<rect x="333.5" y="317.28" width="1.0" height="4.5" fill="#8f97d0" />
<rect x="344.5" y="317.28" width="1.0" height="4.5" fill="#b89a38" />
<rect x="345.5" y="317.28" width="1.0" height="4.5" fill="#e9b9b9" />
<rect x="362.0" y="317.28" width="1.0" height="4.5" fill="#e05a30" />
<rect x="363.0" y="317.28" width="2.0" height="4.5" fill="#eea048" />
<rect x="365.0" y="317.28" width="1.5" height="4.5" fill="#2a9a3a" />
<rect x="366.5" y="317.28" width="1.0" height="4.5" fill="#f8d840" />
<rect x="367.5" y="317.28" width="3.0" height="4.5" fill="#2a9a3a" />
<rect x="370.5" y="317.28" width="1.0" height="4.5" fill="#5fb0a0" />
<rect x="371.5" y="317.28" width="2.0" height="4.5" fill="#f8d840" />
<rect x="386.0" y="317.28" width="1.5" height="4.5" fill="#8f97d0" />
<rect x="393.0" y="317.28" width="1.0" height="4.5" fill="#fcedb0" />
<rect x="411.2" y="317.28" width="1.6" height="4.5" fill="#8f97d0" />
<rect x="415.0" y="317.28" width="1.0" height="4.5" fill="#f8d840" />
<rect x="416.2" y="317.28" width="2.3" height="4.5" fill="#f5b860" />
<rect x="418.5" y="317.28" width="1.5" height="4.5" fill="#eea048" />
<rect x="420.0" y="317.28" width="1.5" height="4.5" fill="#b89a38" />
<rect x="421.5" y="317.28" width="2.7" height="4.5" fill="#f5b860" />
<rect x="424.2" y="317.28" width="3.1" height="4.5" fill="#e9b9b9" />
<rect x="427.3" y="317.28" width="3.2" height="4.5" fill="#e8906a" />
<rect x="430.5" y="317.28" width="0.5" height="4.5" fill="#eea048" />
<rect x="431.0" y="317.28" width="1.9" height="4.5" fill="#2a9a3a" />
<rect x="432.9" y="317.28" width="1.2" height="4.5" fill="#f8d840" />
<rect x="434.1" y="317.28" width="2.1" height="4.5" fill="#e9b9b9" />
<rect x="436.2" y="317.28" width="1.0" height="4.5" fill="#f8d840" />
<rect x="437.2" y="317.28" width="1.6" height="4.5" fill="#2a9a3a" />
<rect x="438.8" y="317.28" width="2.1" height="4.5" fill="#f5b860" />
<rect x="440.9" y="317.28" width="6.9" height="4.5" fill="#2a9a3a" />
<rect x="465.0" y="317.28" width="1.0" height="4.5" fill="#8a8a8a" />
<rect x="467.5" y="317.28" width="1.0" height="4.5" fill="#b0b0b0" />
<rect x="472.5" y="317.28" width="1.0" height="4.5" fill="#e9b9b9" />
<rect x="476.0" y="317.28" width="1.0" height="4.5" fill="#f9e690" />
<rect x="478.0" y="317.28" width="1.0" height="4.5" fill="#707898" />
<rect x="479.0" y="317.28" width="3.0" height="4.5" fill="#eea048" />
<rect x="495.0" y="317.28" width="1.0" height="4.5" fill="#fcedb0" />
<rect x="498.5" y="317.28" width="1.0" height="4.5" fill="#eea048" />
<rect x="508.0" y="317.28" width="1.0" height="4.5" fill="#fcedb0" />
<rect x="510.5" y="317.28" width="1.0" height="4.5" fill="#fcedb0" />
<rect x="100.5" y="323.56" width="2.5" height="4.5" fill="#eea048" />
<rect x="106.7" y="323.56" width="1.8" height="4.5" fill="#f8d840" />
<rect x="110.5" y="323.56" width="1.0" height="4.5" fill="#e9b9b9" />
<rect x="116.0" y="323.56" width="3.5" height="4.5" fill="#f5b860" />
<rect x="128.9" y="323.56" width="1.0" height="4.5" fill="#fcedb0" />
<rect x="137.3" y="323.56" width="1.7" height="4.5" fill="#eea048" />
<rect x="153.0" y="323.56" width="1.0" height="4.5" fill="#fcedb0" />
<rect x="157.0" y="323.56" width="1.5" height="4.5" fill="#2a9a3a" />
<rect x="158.5" y="323.56" width="1.5" height="4.5" fill="#f8d840" />
<rect x="160.0" y="323.56" width="1.5" height="4.5" fill="#eea048" />
<rect x="166.5" y="323.56" width="1.5" height="4.5" fill="#f5b860" />
<rect x="168.0" y="323.56" width="1.5" height="4.5" fill="#f8d840" />
<rect x="169.5" y="323.56" width="1.5" height="4.5" fill="#f5b860" />
<rect x="171.0" y="323.56" width="2.0" height="4.5" fill="#b06050" />
<rect x="173.5" y="323.56" width="4.5" height="4.5" fill="#8f97d0" />
<rect x="183.0" y="323.56" width="1.0" height="4.5" fill="#fcedb0" />
<rect x="193.0" y="323.56" width="1.0" height="4.5" fill="#fcedb0" />
<rect x="198.0" y="323.56" width="1.0" height="4.5" fill="#fcedb0" />
<rect x="209.0" y="323.56" width="1.0" height="4.5" fill="#fcedb0" />
<rect x="211.0" y="323.56" width="1.5" height="4.5" fill="#b06050" />
<rect x="236.0" y="323.56" width="1.0" height="4.5" fill="#fcedb0" />
<rect x="237.5" y="323.56" width="1.0" height="4.5" fill="#8f97d0" />
<rect x="245.5" y="323.56" width="1.0" height="4.5" fill="#5aaa40" />
<rect x="246.5" y="323.56" width="2.0" height="4.5" fill="#eea048" />
<rect x="253.5" y="323.56" width="1.0" height="4.5" fill="#fcedb0" />
<rect x="256.5" y="323.56" width="1.0" height="4.5" fill="#fcedb0" />
<rect x="259.0" y="323.56" width="1.0" height="4.5" fill="#eea048" />
<rect x="268.0" y="323.56" width="1.5" height="4.5" fill="#e05a30" />
<rect x="269.0" y="323.56" width="1.0" height="4.5" fill="#f9e690" />
<rect x="273.5" y="323.56" width="2.0" height="4.5" fill="#f9e690" />
<rect x="286.5" y="323.56" width="1.0" height="4.5" fill="#fcedb0" />
<rect x="290.5" y="323.56" width="1.0" height="4.5" fill="#5aaa40" />
<rect x="293.0" y="323.56" width="1.0" height="4.5" fill="#fcedb0" />
<rect x="296.5" y="323.56" width="1.0" height="4.5" fill="#f8d840" />
<rect x="304.0" y="323.56" width="1.0" height="4.5" fill="#f8d840" />
<rect x="305.9" y="323.56" width="2.3" height="4.5" fill="#2a9a3a" />
<rect x="308.2" y="323.56" width="0.8" height="4.5" fill="#f8d840" />
<rect x="313.0" y="323.56" width="1.0" height="4.5" fill="#fcedb0" />
<rect x="316.0" y="323.56" width="2.6" height="4.5" fill="#eea048" />
<rect x="321.0" y="323.56" width="1.0" height="4.5" fill="#f9e690" />
<rect x="332.0" y="323.56" width="1.0" height="4.5" fill="#fcedb0" />
<rect x="344.0" y="323.56" width="1.5" height="4.5" fill="#eea048" />
<rect x="345.5" y="323.56" width="1.0" height="4.5" fill="#e9b9b9" />
<rect x="362.0" y="323.56" width="1.0" height="4.5" fill="#e05a30" />
<rect x="363.0" y="323.56" width="1.0" height="4.5" fill="#f8d840" />
<rect x="364.0" y="323.56" width="6.5" height="4.5" fill="#2a9a3a" />
<rect x="370.5" y="323.56" width="3.5" height="4.5" fill="#f8d840" />
<rect x="386.5" y="323.56" width="1.0" height="4.5" fill="#8f97d0" />
<rect x="393.0" y="323.56" width="1.0" height="4.5" fill="#fcedb0" />
<rect x="411.2" y="323.56" width="1.6" height="4.5" fill="#8f97d0" />
<rect x="416.2" y="323.56" width="2.8" height="4.5" fill="#f5b860" />
<rect x="419.5" y="323.56" width="1.0" height="4.5" fill="#f9e690" />
<rect x="421.0" y="323.56" width="0.6" height="4.5" fill="#f5b860" />
<rect x="421.6" y="323.56" width="2.3" height="4.5" fill="#2a9a3a" />
<rect x="433.5" y="323.56" width="1.0" height="4.5" fill="#f8d840" />
<rect x="439.5" y="323.56" width="1.0" height="4.5" fill="#f9e690" />
<rect x="466.0" y="323.56" width="1.0" height="4.5" fill="#fcedb0" />
<rect x="468.0" y="323.56" width="1.0" height="4.5" fill="#8a8a8a" />
<rect x="478.0" y="323.56" width="1.0" height="4.5" fill="#707898" />
<rect x="479.0" y="323.56" width="2.5" height="4.5" fill="#eea048" />
<rect x="498.5" y="323.56" width="1.0" height="4.5" fill="#f8d840" />
<rect x="502.5" y="323.56" width="1.0" height="4.5" fill="#f9e690" />
<rect x="508.0" y="323.56" width="1.0" height="4.5" fill="#fcedb0" />
<rect x="100.9" y="329.84" width="1.8" height="4.5" fill="#f8d840" />
<rect x="110.5" y="329.84" width="1.0" height="4.5" fill="#fcedb0" />
<rect x="116.7" y="329.84" width="2.3" height="4.5" fill="#eea048" />
<rect x="128.9" y="329.84" width="1.0" height="4.5" fill="#fcedb0" />
<rect x="137.2" y="329.84" width="1.8" height="4.5" fill="#e8906a" />
<rect x="160.5" y="329.84" width="1.0" height="4.5" fill="#fcedb0" />
<rect x="166.8" y="329.84" width="1.9" height="4.5" fill="#f8d840" />
<rect x="171.0" y="329.84" width="2.0" height="4.5" fill="#b06050" />
<rect x="173.5" y="329.84" width="4.5" height="4.5" fill="#8f97d0" />
<rect x="183.0" y="329.84" width="1.0" height="4.5" fill="#fcedb0" />
<rect x="198.0" y="329.84" width="1.0" height="4.5" fill="#f8d840" />
<rect x="209.0" y="329.84" width="1.0" height="4.5" fill="#fcedb0" />
<rect x="211.0" y="329.84" width="1.5" height="4.5" fill="#eea048" />
<rect x="236.2" y="329.84" width="1.4" height="4.5" fill="#f8d840" />
<rect x="237.6" y="329.84" width="1.4" height="4.5" fill="#8f97d0" />
<rect x="247.0" y="329.84" width="1.5" height="4.5" fill="#eea048" />
<rect x="254.0" y="329.84" width="1.0" height="4.5" fill="#fcedb0" />
<rect x="256.5" y="329.84" width="1.0" height="4.5" fill="#fcedb0" />
<rect x="259.0" y="329.84" width="1.0" height="4.5" fill="#eea048" />
<rect x="268.0" y="329.84" width="1.5" height="4.5" fill="#eea048" />
<rect x="269.5" y="329.84" width="1.5" height="4.5" fill="#f9e690" />
<rect x="273.0" y="329.84" width="1.0" height="4.5" fill="#f8d840" />
<rect x="274.0" y="329.84" width="1.0" height="4.5" fill="#5aaa40" />
<rect x="275.0" y="329.84" width="1.0" height="4.5" fill="#f8d840" />
<rect x="278.0" y="329.84" width="1.0" height="4.5" fill="#fcedb0" />
<rect x="287.0" y="329.84" width="1.0" height="4.5" fill="#fcedb0" />
<rect x="290.4" y="329.84" width="1.8" height="4.5" fill="#f8d840" />
<rect x="296.0" y="329.84" width="1.0" height="4.5" fill="#fcedb0" />
<rect x="304.0" y="329.84" width="1.0" height="4.5" fill="#f9e690" />
<rect x="313.5" y="329.84" width="1.0" height="4.5" fill="#f8d840" />
<rect x="316.0" y="329.84" width="1.0" height="4.5" fill="#eea048" />
<rect x="344.0" y="329.84" width="1.0" height="4.5" fill="#fcedb0" />
<rect x="362.0" y="329.84" width="1.0" height="4.5" fill="#e05a30" />
<rect x="363.0" y="329.84" width="2.5" height="4.5" fill="#f5b860" />
<rect x="365.5" y="329.84" width="5.0" height="4.5" fill="#2a9a3a" />
<rect x="370.5" y="329.84" width="4.5" height="4.5" fill="#f5b860" />
<rect x="386.0" y="329.84" width="2.0" height="4.5" fill="#5fb0a0" />
<rect x="393.5" y="329.84" width="1.0" height="4.5" fill="#f5b860" />
<rect x="416.2" y="329.84" width="3.7" height="4.5" fill="#f5b860" />
<rect x="421.0" y="329.84" width="3.7" height="4.5" fill="#f8d840" />
<rect x="433.5" y="329.84" width="1.0" height="4.5" fill="#f9e690" />
<rect x="439.5" y="329.84" width="1.0" height="4.5" fill="#f8d840" />
<rect x="445.0" y="329.84" width="1.0" height="4.5" fill="#fcedb0" />
<rect x="464.0" y="329.84" width="1.0" height="4.5" fill="#8f97d0" />
<rect x="466.0" y="329.84" width="1.0" height="4.5" fill="#fcedb0" />
<rect x="480.0" y="329.84" width="1.0" height="4.5" fill="#fcedb0" />
<rect x="498.5" y="329.84" width="1.0" height="4.5" fill="#f8d840" />
<rect x="508.0" y="329.84" width="1.0" height="4.5" fill="#fcedb0" />
<rect x="510.0" y="329.84" width="1.0" height="4.5" fill="#fcedb0" />
<rect x="100.5" y="336.12" width="1.0" height="4.5" fill="#e9b9b9" />
<rect x="107.0" y="336.12" width="1.0" height="4.5" fill="#fcedb0" />
<rect x="110.5" y="336.12" width="1.0" height="4.5" fill="#fcedb0" />
<rect x="116.7" y="336.12" width="1.3" height="4.5" fill="#f8d840" />
<rect x="118.0" y="336.12" width="1.5" height="4.5" fill="#eea048" />
<rect x="128.9" y="336.12" width="1.0" height="4.5" fill="#fcedb0" />
<rect x="137.3" y="336.12" width="1.7" height="4.5" fill="#e8906a" />
<rect x="140.0" y="336.12" width="1.0" height="4.5" fill="#fcedb0" />
<rect x="143.8" y="336.12" width="1.2" height="4.5" fill="#eea048" />
<rect x="145.0" y="336.12" width="3.9" height="4.5" fill="#f8d840" />
<rect x="158.0" y="336.12" width="1.0" height="4.5" fill="#fcedb0" />
<rect x="167.0" y="336.12" width="2.0" height="4.5" fill="#eea048" />
<rect x="171.0" y="336.12" width="2.0" height="4.5" fill="#b06050" />
<rect x="173.0" y="336.12" width="2.0" height="4.5" fill="#8f97d0" />
<rect x="175.0" y="336.12" width="1.0" height="4.5" fill="#5fb0a0" />
<rect x="176.1" y="336.12" width="1.1" height="4.5" fill="#f8d840" />
<rect x="177.2" y="336.12" width="1.1" height="4.5" fill="#8f97d0" />
<rect x="183.0" y="336.12" width="1.0" height="4.5" fill="#fcedb0" />
<rect x="198.0" y="336.12" width="1.0" height="4.5" fill="#f8d840" />
<rect x="209.0" y="336.12" width="1.0" height="4.5" fill="#fcedb0" />
<rect x="211.0" y="336.12" width="1.5" height="4.5" fill="#c08868" />
<rect x="220.0" y="336.12" width="1.0" height="4.5" fill="#fcedb0" />
<rect x="236.2" y="336.12" width="1.4" height="4.5" fill="#f8d840" />
<rect x="237.6" y="336.12" width="1.4" height="4.5" fill="#8f97d0" />
<rect x="247.0" y="336.12" width="1.5" height="4.5" fill="#f5b860" />
<rect x="254.0" y="336.12" width="1.0" height="4.5" fill="#fcedb0" />
<rect x="256.5" y="336.12" width="1.0" height="4.5" fill="#fcedb0" />
<rect x="259.0" y="336.12" width="1.0" height="4.5" fill="#eea048" />
<rect x="268.0" y="336.12" width="1.5" height="4.5" fill="#eea048" />
<rect x="269.5" y="336.12" width="1.5" height="4.5" fill="#f8d840" />
<rect x="273.0" y="336.12" width="1.0" height="4.5" fill="#f8d840" />
<rect x="274.0" y="336.12" width="1.0" height="4.5" fill="#2a9a3a" />
<rect x="275.0" y="336.12" width="1.0" height="4.5" fill="#f8d840" />
<rect x="278.5" y="336.12" width="1.0" height="4.5" fill="#fcedb0" />
<rect x="287.0" y="336.12" width="1.0" height="4.5" fill="#fcedb0" />
<rect x="290.5" y="336.12" width="1.0" height="4.5" fill="#f8d840" />
<rect x="296.0" y="336.12" width="1.0" height="4.5" fill="#fcedb0" />
<rect x="304.0" y="336.12" width="1.0" height="4.5" fill="#f8d840" />
<rect x="307.5" y="336.12" width="1.0" height="4.5" fill="#fcedb0" />
<rect x="313.5" y="336.12" width="1.0" height="4.5" fill="#f5b860" />
<rect x="316.0" y="336.12" width="1.0" height="4.5" fill="#eea048" />
<rect x="362.0" y="336.12" width="3.2" height="4.5" fill="#e05a30" />
<rect x="365.2" y="336.12" width="0.8" height="4.5" fill="#f8d840" />
<rect x="366.0" y="336.12" width="4.5" height="4.5" fill="#2a9a3a" />
<rect x="370.5" y="336.12" width="4.5" height="4.5" fill="#f5b860" />
<rect x="386.5" y="336.12" width="1.0" height="4.5" fill="#8f97d0" />
<rect x="393.5" y="336.12" width="1.0" height="4.5" fill="#f8d840" />
<rect x="416.2" y="336.12" width="3.3" height="4.5" fill="#f5b860" />
<rect x="421.0" y="336.12" width="1.0" height="4.5" fill="#f8d840" />
<rect x="422.0" y="336.12" width="2.5" height="4.5" fill="#2a9a3a" />
<rect x="433.0" y="336.12" width="1.0" height="4.5" fill="#f8d840" />
<rect x="439.5" y="336.12" width="1.0" height="4.5" fill="#f9e690" />
<rect x="445.0" y="336.12" width="1.0" height="4.5" fill="#fcedb0" />
<rect x="464.5" y="336.12" width="1.5" height="4.5" fill="#555555" />
<rect x="480.0" y="336.12" width="1.0" height="4.5" fill="#fcedb0" />
<rect x="498.5" y="336.12" width="1.0" height="4.5" fill="#f8d840" />
<rect x="508.0" y="336.12" width="1.0" height="4.5" fill="#fcedb0" />
<rect x="510.0" y="336.12" width="1.0" height="4.5" fill="#fcedb0" />
<rect x="100.5" y="342.4" width="1.0" height="4.5" fill="#e9b9b9" />
<rect x="107.0" y="342.4" width="1.0" height="4.5" fill="#fcedb0" />
<rect x="116.7" y="342.4" width="1.3" height="4.5" fill="#eea048" />
<rect x="118.0" y="342.4" width="1.0" height="4.5" fill="#e05a30" />
<rect x="128.9" y="342.4" width="1.0" height="4.5" fill="#fcedb0" />
<rect x="137.3" y="342.4" width="1.5" height="4.5" fill="#f8d840" />
<rect x="146.5" y="342.4" width="1.0" height="4.5" fill="#fcedb0" />
<rect x="158.0" y="342.4" width="1.0" height="4.5" fill="#fcedb0" />
<rect x="168.0" y="342.4" width="1.0" height="4.5" fill="#f8d840" />
<rect x="171.0" y="342.4" width="1.5" height="4.5" fill="#b06050" />
<rect x="172.5" y="342.4" width="1.0" height="4.5" fill="#2a9a3a" />
<rect x="173.5" y="342.4" width="4.5" height="4.5" fill="#8f97d0" />
<rect x="183.0" y="342.4" width="1.0" height="4.5" fill="#fcedb0" />
<rect x="198.0" y="342.4" width="1.0" height="4.5" fill="#fcedb0" />
<rect x="209.0" y="342.4" width="1.0" height="4.5" fill="#fcedb0" />
<rect x="211.0" y="342.4" width="1.5" height="4.5" fill="#f5b860" />
<rect x="220.0" y="342.4" width="1.0" height="4.5" fill="#fcedb0" />
<rect x="236.2" y="342.4" width="1.4" height="4.5" fill="#f8d840" />
<rect x="237.6" y="342.4" width="1.4" height="4.5" fill="#8f97d0" />
<rect x="247.0" y="342.4" width="1.5" height="4.5" fill="#f5b860" />
<rect x="254.0" y="342.4" width="1.0" height="4.5" fill="#fcedb0" />
<rect x="256.5" y="342.4" width="1.0" height="4.5" fill="#fcedb0" />
<rect x="259.0" y="342.4" width="1.0" height="4.5" fill="#f8d840" />
<rect x="268.0" y="342.4" width="1.5" height="4.5" fill="#e8906a" />
<rect x="269.5" y="342.4" width="1.5" height="4.5" fill="#f9e690" />
<rect x="272.8" y="342.4" width="3.2" height="4.5" fill="#f8d840" />
<rect x="278.0" y="342.4" width="1.0" height="4.5" fill="#f8d840" />
<rect x="287.0" y="342.4" width="1.0" height="4.5" fill="#fcedb0" />
<rect x="290.5" y="342.4" width="1.5" height="4.5" fill="#f8d840" />
<rect x="304.0" y="342.4" width="1.0" height="4.5" fill="#f9e690" />
<rect x="313.5" y="342.4" width="1.0" height="4.5" fill="#f5b860" />
<rect x="316.0" y="342.4" width="1.0" height="4.5" fill="#f9e690" />
<rect x="362.0" y="342.4" width="1.0" height="4.5" fill="#e05a30" />
<rect x="363.0" y="342.4" width="3.0" height="4.5" fill="#f8d840" />
<rect x="366.0" y="342.4" width="4.5" height="4.5" fill="#2a9a3a" />
<rect x="370.5" y="342.4" width="4.5" height="4.5" fill="#f5b860" />
<rect x="386.5" y="342.4" width="1.0" height="4.5" fill="#5fb0a0" />
<rect x="393.0" y="342.4" width="1.5" height="4.5" fill="#f8d840" />
<rect x="401.0" y="342.4" width="1.0" height="4.5" fill="#f9e690" />
<rect x="416.2" y="342.4" width="3.3" height="4.5" fill="#f5b860" />
<rect x="421.0" y="342.4" width="1.0" height="4.5" fill="#f9e690" />
<rect x="422.0" y="342.4" width="2.0" height="4.5" fill="#2a9a3a" />
<rect x="433.0" y="342.4" width="1.0" height="4.5" fill="#f9e690" />
<rect x="439.5" y="342.4" width="1.0" height="4.5" fill="#f9e690" />
<rect x="445.0" y="342.4" width="1.0" height="4.5" fill="#fcedb0" />
<rect x="464.0" y="342.4" width="1.0" height="4.5" fill="#8a8a8a" />
<rect x="466.0" y="342.4" width="1.0" height="4.5" fill="#fcedb0" />
<rect x="479.0" y="342.4" width="1.0" height="4.5" fill="#555555" />
<rect x="480.0" y="342.4" width="1.0" height="4.5" fill="#fcedb0" />
<rect x="498.5" y="342.4" width="1.0" height="4.5" fill="#f8d840" />
<rect x="508.0" y="342.4" width="1.0" height="4.5" fill="#fcedb0" />
<rect x="510.0" y="342.4" width="1.0" height="4.5" fill="#fcedb0" />
<rect x="100.5" y="348.68" width="2.5" height="4.5" fill="#f5b860" />
<rect x="107.0" y="348.68" width="1.0" height="4.5" fill="#fcedb0" />
<rect x="110.5" y="348.68" width="1.0" height="4.5" fill="#fcedb0" />
<rect x="116.7" y="348.68" width="2.3" height="4.5" fill="#eea048" />
<rect x="128.9" y="348.68" width="1.0" height="4.5" fill="#fcedb0" />
<rect x="137.3" y="348.68" width="1.5" height="4.5" fill="#e8906a" />
<rect x="146.5" y="348.68" width="1.0" height="4.5" fill="#fcedb0" />
<rect x="158.0" y="348.68" width="1.0" height="4.5" fill="#fcedb0" />
<rect x="161.8" y="348.68" width="1.0" height="4.5" fill="#8f97d0" />
<rect x="167.0" y="348.68" width="2.0" height="4.5" fill="#f8d840" />
<rect x="171.0" y="348.68" width="1.5" height="4.5" fill="#b06050" />
<rect x="172.5" y="348.68" width="1.0" height="4.5" fill="#2a9a3a" />
<rect x="173.5" y="348.68" width="4.5" height="4.5" fill="#8f97d0" />
<rect x="183.0" y="348.68" width="1.0" height="4.5" fill="#fcedb0" />
<rect x="198.0" y="348.68" width="1.0" height="4.5" fill="#f8d840" />
<rect x="209.0" y="348.68" width="1.0" height="4.5" fill="#fcedb0" />
<rect x="211.0" y="348.68" width="1.5" height="4.5" fill="#eea048" />
<rect x="220.0" y="348.68" width="1.0" height="4.5" fill="#fcedb0" />
<rect x="236.0" y="348.68" width="1.5" height="4.5" fill="#f8d840" />
<rect x="237.5" y="348.68" width="1.5" height="4.5" fill="#8f97d0" />
<rect x="247.0" y="348.68" width="1.5" height="4.5" fill="#eea048" />
<rect x="254.0" y="348.68" width="1.0" height="4.5" fill="#fcedb0" />
<rect x="256.5" y="348.68" width="1.0" height="4.5" fill="#fcedb0" />
<rect x="259.0" y="348.68" width="1.0" height="4.5" fill="#eea048" />
<rect x="268.0" y="348.68" width="1.5" height="4.5" fill="#e8906a" />
<rect x="269.5" y="348.68" width="1.5" height="4.5" fill="#f8d840" />
<rect x="273.0" y="348.68" width="3.0" height="4.5" fill="#f8d840" />
<rect x="276.0" y="348.68" width="1.0" height="4.5" fill="#e9b9b9" />
<rect x="278.0" y="348.68" width="1.0" height="4.5" fill="#f8d840" />
<rect x="287.0" y="348.68" width="1.0" height="4.5" fill="#fcedb0" />
<rect x="290.5" y="348.68" width="1.5" height="4.5" fill="#f8d840" />
<rect x="304.0" y="348.68" width="1.0" height="4.5" fill="#e9b9b9" />
<rect x="307.5" y="348.68" width="1.0" height="4.5" fill="#fcedb0" />
<rect x="313.5" y="348.68" width="1.0" height="4.5" fill="#f8d840" />
<rect x="316.0" y="348.68" width="1.0" height="4.5" fill="#eea048" />
<rect x="345.0" y="348.68" width="1.0" height="4.5" fill="#e9b9b9" />
<rect x="362.0" y="348.68" width="3.0" height="4.5" fill="#e05a30" />
<rect x="365.0" y="348.68" width="1.0" height="4.5" fill="#f8d840" />
<rect x="366.0" y="348.68" width="3.5" height="4.5" fill="#2a9a3a" />
<rect x="369.5" y="348.68" width="1.5" height="4.5" fill="#f8d840" />
<rect x="371.0" y="348.68" width="4.0" height="4.5" fill="#f5b860" />
<rect x="386.5" y="348.68" width="1.0" height="4.5" fill="#5fb0a0" />
<rect x="393.5" y="348.68" width="1.0" height="4.5" fill="#f5b860" />
<rect x="402.5" y="348.68" width="1.0" height="4.5" fill="#f9e690" />
<rect x="416.2" y="348.68" width="3.8" height="4.5" fill="#f5b860" />
<rect x="420.0" y="348.68" width="4.5" height="4.5" fill="#f8d840" />
<rect x="425.5" y="348.68" width="1.0" height="4.5" fill="#8f97d0" />
<rect x="428.0" y="348.68" width="1.0" height="4.5" fill="#f9e690" />
<rect x="432.2" y="348.68" width="3.2" height="4.5" fill="#eea048" />
<rect x="439.5" y="348.68" width="1.0" height="4.5" fill="#f9e690" />
<rect x="445.0" y="348.68" width="1.0" height="4.5" fill="#fcedb0" />
<rect x="464.5" y="348.68" width="1.0" height="4.5" fill="#b0b0b0" />
<rect x="480.0" y="348.68" width="1.0" height="4.5" fill="#fcedb0" />
<rect x="498.5" y="348.68" width="1.0" height="4.5" fill="#f9e690" />
<rect x="508.0" y="348.68" width="1.0" height="4.5" fill="#fcedb0" />
<rect x="100.5" y="354.96" width="1.0" height="4.5" fill="#e9b9b9" />
<rect x="110.5" y="354.96" width="1.0" height="4.5" fill="#fcedb0" />
<rect x="116.7" y="354.96" width="1.3" height="4.5" fill="#f8d840" />
<rect x="118.0" y="354.96" width="1.5" height="4.5" fill="#e05a30" />
<rect x="128.9" y="354.96" width="1.0" height="4.5" fill="#fcedb0" />
<rect x="137.3" y="354.96" width="1.7" height="4.5" fill="#eea048" />
<rect x="139.5" y="354.96" width="1.0" height="4.5" fill="#f9e690" />
<rect x="144.5" y="354.96" width="1.0" height="4.5" fill="#eea048" />
<rect x="145.5" y="354.96" width="3.0" height="4.5" fill="#f8d840" />
<rect x="157.7" y="354.96" width="1.9" height="4.5" fill="#f8d840" />
<rect x="166.5" y="354.96" width="2.5" height="4.5" fill="#f5b860" />
<rect x="171.0" y="354.96" width="1.5" height="4.5" fill="#b06050" />
<rect x="172.5" y="354.96" width="1.5" height="4.5" fill="#8f97d0" />
<rect x="174.0" y="354.96" width="1.6" height="4.5" fill="#5fb0a0" />
<rect x="175.6" y="354.96" width="0.9" height="4.5" fill="#8f97d0" />
<rect x="176.5" y="354.96" width="1.0" height="4.5" fill="#eea048" />
<rect x="177.5" y="354.96" width="0.5" height="4.5" fill="#8f97d0" />
<rect x="183.0" y="354.96" width="1.0" height="4.5" fill="#fcedb0" />
<rect x="198.0" y="354.96" width="1.0" height="4.5" fill="#f9e690" />
<rect x="209.0" y="354.96" width="1.0" height="4.5" fill="#fcedb0" />
<rect x="211.0" y="354.96" width="1.5" height="4.5" fill="#eea048" />
<rect x="220.0" y="354.96" width="1.0" height="4.5" fill="#fcedb0" />
<rect x="236.0" y="354.96" width="1.5" height="4.5" fill="#f8d840" />
<rect x="237.5" y="354.96" width="1.5" height="4.5" fill="#8f97d0" />
<rect x="247.0" y="354.96" width="1.5" height="4.5" fill="#eea048" />
<rect x="253.5" y="354.96" width="1.0" height="4.5" fill="#fcedb0" />
<rect x="257.5" y="354.96" width="1.1" height="4.5" fill="#2a9a3a" />
<rect x="258.6" y="354.96" width="1.4" height="4.5" fill="#f8d840" />
<rect x="268.0" y="354.96" width="1.5" height="4.5" fill="#eea048" />
<rect x="269.5" y="354.96" width="1.5" height="4.5" fill="#f8d840" />
<rect x="273.0" y="354.96" width="3.0" height="4.5" fill="#f5b860" />
<rect x="278.0" y="354.96" width="1.0" height="4.5" fill="#fcedb0" />
<rect x="287.0" y="354.96" width="1.0" height="4.5" fill="#fcedb0" />
<rect x="290.0" y="354.96" width="1.0" height="4.5" fill="#f8d840" />
<rect x="296.0" y="354.96" width="1.0" height="4.5" fill="#fcedb0" />
<rect x="304.0" y="354.96" width="1.0" height="4.5" fill="#e9b9b9" />
<rect x="307.5" y="354.96" width="1.0" height="4.5" fill="#f9e690" />
<rect x="313.0" y="354.96" width="1.0" height="4.5" fill="#f9e690" />
<rect x="316.0" y="354.96" width="1.0" height="4.5" fill="#f8d840" />
<rect x="362.0" y="354.96" width="3.0" height="4.5" fill="#e05a30" />
<rect x="365.0" y="354.96" width="1.5" height="4.5" fill="#f8d840" />
<rect x="366.5" y="354.96" width="1.5" height="4.5" fill="#2a9a3a" />
<rect x="368.0" y="354.96" width="1.0" height="4.5" fill="#f8d840" />
<rect x="369.0" y="354.96" width="1.5" height="4.5" fill="#2a9a3a" />
<rect x="370.5" y="354.96" width="4.5" height="4.5" fill="#f5b860" />
<rect x="386.0" y="354.96" width="1.0" height="4.5" fill="#8f97d0" />
<rect x="387.6" y="354.96" width="5.8" height="4.5" fill="#2a9a3a" />
<rect x="393.4" y="354.96" width="0.6" height="4.5" fill="#f8d840" />
<rect x="416.2" y="354.96" width="3.8" height="4.5" fill="#f5b860" />
<rect x="420.0" y="354.96" width="4.5" height="4.5" fill="#f8d840" />
<rect x="428.7" y="354.96" width="1.3" height="4.5" fill="#5aaa40" />
<rect x="432.2" y="354.96" width="1.4" height="4.5" fill="#2a9a3a" />
<rect x="433.6" y="354.96" width="1.4" height="4.5" fill="#f8d840" />
<rect x="439.5" y="354.96" width="1.0" height="4.5" fill="#fcedb0" />
<rect x="445.0" y="354.96" width="1.0" height="4.5" fill="#fcedb0" />
<rect x="464.0" y="354.96" width="1.0" height="4.5" fill="#8a8a8a" />
<rect x="466.0" y="354.96" width="1.0" height="4.5" fill="#fcedb0" />
<rect x="480.0" y="354.96" width="1.0" height="4.5" fill="#fcedb0" />
<rect x="498.5" y="354.96" width="1.0" height="4.5" fill="#f8d840" />
<rect x="508.0" y="354.96" width="1.0" height="4.5" fill="#fcedb0" />
<rect x="510.0" y="354.96" width="1.0" height="4.5" fill="#fcedb0" />
<rect x="100.5" y="361.24" width="2.0" height="4.5" fill="#eea048" />
<rect x="106.5" y="361.24" width="2.0" height="4.5" fill="#f8d840" />
<rect x="110.5" y="361.24" width="1.5" height="4.5" fill="#f8d840" />
<rect x="116.7" y="361.24" width="1.3" height="4.5" fill="#eea048" />
<rect x="118.0" y="361.24" width="1.5" height="4.5" fill="#e05a30" />
<rect x="128.9" y="361.24" width="1.0" height="4.5" fill="#fcedb0" />
<rect x="137.3" y="361.24" width="1.5" height="4.5" fill="#eea048" />
<rect x="146.5" y="361.24" width="1.0" height="4.5" fill="#fcedb0" />
<rect x="156.9" y="361.24" width="2.1" height="4.5" fill="#5aaa40" />
<rect x="159.0" y="361.24" width="1.0" height="4.5" fill="#f8d840" />
<rect x="160.0" y="361.24" width="1.5" height="4.5" fill="#f5b860" />
<rect x="166.5" y="361.24" width="2.2" height="4.5" fill="#f5b860" />
<rect x="168.7" y="361.24" width="2.1" height="4.5" fill="#5aaa40" />
<rect x="170.8" y="361.24" width="2.1" height="4.5" fill="#e05a30" />
<rect x="173.0" y="361.24" width="5.0" height="4.5" fill="#8f97d0" />
<rect x="183.0" y="361.24" width="1.0" height="4.5" fill="#f8d840" />
<rect x="193.0" y="361.24" width="1.0" height="4.5" fill="#fcedb0" />
<rect x="198.8" y="361.24" width="3.7" height="4.5" fill="#2a9a3a" />
<rect x="209.0" y="361.24" width="1.0" height="4.5" fill="#fcedb0" />
<rect x="211.0" y="361.24" width="1.5" height="4.5" fill="#a06a80" />
<rect x="237.0" y="361.24" width="2.0" height="4.5" fill="#8f97d0" />
<rect x="245.8" y="361.24" width="1.2" height="4.5" fill="#2a9a3a" />
<rect x="247.0" y="361.24" width="1.5" height="4.5" fill="#f5b860" />
<rect x="253.5" y="361.24" width="1.0" height="4.5" fill="#fcedb0" />
<rect x="256.5" y="361.24" width="1.0" height="4.5" fill="#fcedb0" />
<rect x="259.0" y="361.24" width="1.0" height="4.5" fill="#f8d840" />
<rect x="268.0" y="361.24" width="1.5" height="4.5" fill="#e05a30" />
<rect x="269.5" y="361.24" width="1.0" height="4.5" fill="#e9b9b9" />
<rect x="273.5" y="361.24" width="1.0" height="4.5" fill="#fcedb0" />
<rect x="275.5" y="361.24" width="1.0" height="4.5" fill="#fcedb0" />
<rect x="284.0" y="361.24" width="1.0" height="4.5" fill="#f8d840" />
<rect x="287.0" y="361.24" width="1.0" height="4.5" fill="#f9e690" />
<rect x="290.0" y="361.24" width="1.0" height="4.5" fill="#f9e690" />
<rect x="292.5" y="361.24" width="1.0" height="4.5" fill="#fcedb0" />
<rect x="296.2" y="361.24" width="1.4" height="4.5" fill="#f8d840" />
<rect x="298.5" y="361.24" width="1.0" height="4.5" fill="#fcedb0" />
<rect x="304.0" y="361.24" width="1.0" height="4.5" fill="#eea048" />
<rect x="305.1" y="361.24" width="1.1" height="4.5" fill="#8f97d0" />
<rect x="307.0" y="361.24" width="2.2" height="4.5" fill="#f8d840" />
<rect x="313.5" y="361.24" width="1.0" height="4.5" fill="#e8906a" />
<rect x="316.0" y="361.24" width="2.8" height="4.5" fill="#eea048" />
<rect x="321.7" y="361.24" width="1.0" height="4.5" fill="#f8d840" />
<rect x="331.3" y="361.24" width="1.0" height="4.5" fill="#f8d840" />
<rect x="343.7" y="361.24" width="1.7" height="4.5" fill="#eea048" />
<rect x="345.4" y="361.24" width="1.1" height="4.5" fill="#e9b9b9" />
<rect x="362.0" y="361.24" width="1.0" height="4.5" fill="#e05a30" />
<rect x="363.0" y="361.24" width="1.0" height="4.5" fill="#f8d840" />
<rect x="370.5" y="361.24" width="1.1" height="4.5" fill="#8f97d0" />
<rect x="371.6" y="361.24" width="0.9" height="4.5" fill="#f8d840" />
<rect x="386.5" y="361.24" width="1.0" height="4.5" fill="#8f97d0" />
<rect x="393.0" y="361.24" width="1.0" height="4.5" fill="#fcedb0" />
<rect x="411.6" y="361.24" width="1.4" height="4.5" fill="#8f97d0" />
<rect x="416.2" y="361.24" width="3.3" height="4.5" fill="#f5b860" />
<rect x="421.0" y="361.24" width="1.5" height="4.5" fill="#f8d840" />
<rect x="433.0" y="361.24" width="1.0" height="4.5" fill="#eea048" />
<rect x="435.5" y="361.24" width="1.0" height="4.5" fill="#fcedb0" />
<rect x="439.5" y="361.24" width="1.0" height="4.5" fill="#f9e690" />
<rect x="445.0" y="361.24" width="1.0" height="4.5" fill="#fcedb0" />
<rect x="449.0" y="361.24" width="1.0" height="4.5" fill="#fcedb0" />
<rect x="466.0" y="361.24" width="1.0" height="4.5" fill="#fcedb0" />
<rect x="478.0" y="361.24" width="1.0" height="4.5" fill="#707898" />
<rect x="479.0" y="361.24" width="2.5" height="4.5" fill="#eea048" />
<rect x="481.5" y="361.24" width="1.0" height="4.5" fill="#e9b9b9" />
<rect x="498.5" y="361.24" width="1.0" height="4.5" fill="#f8d840" />
<rect x="508.0" y="361.24" width="1.0" height="4.5" fill="#fcedb0" />
<rect x="510.0" y="361.24" width="1.0" height="4.5" fill="#fcedb0" />
<line x1="187.1" y1="6.8" x2="187.1" y2="367.5" stroke="#a09696" stroke-width="1.1" opacity="0.4"/>
<line x1="212.2" y1="6.8" x2="212.2" y2="367.5" stroke="#a09696" stroke-width="1.1" opacity="0.4"/>
<line x1="245.5" y1="6.8" x2="245.5" y2="367.5" stroke="#a09696" stroke-width="1.1" opacity="0.4"/>
<line x1="361.4" y1="6.8" x2="361.4" y2="367.5" stroke="#a09696" stroke-width="1.1" opacity="0.4"/>
<line x1="490.5" y1="6.8" x2="490.5" y2="367.5" stroke="#a09696" stroke-width="1.1" opacity="0.4"/>
<rect x="0" y="0" width="518.9" height="1.0" fill="#444444" />
<rect x="0" y="1.0" width="518.9" height="0.5" fill="#8a8a8a" />
<rect x="0" y="0" width="1.0" height="375" fill="#444444" />
<rect x="1.0" y="0" width="0.9" height="375" fill="#6a6a6a" />
<rect x="518.8" y="1.3" width="1.2" height="373.7" fill="#111111" />
<rect x="0" y="372.7" width="520" height="2.3" fill="#333333" />
</svg>
</body></html>
